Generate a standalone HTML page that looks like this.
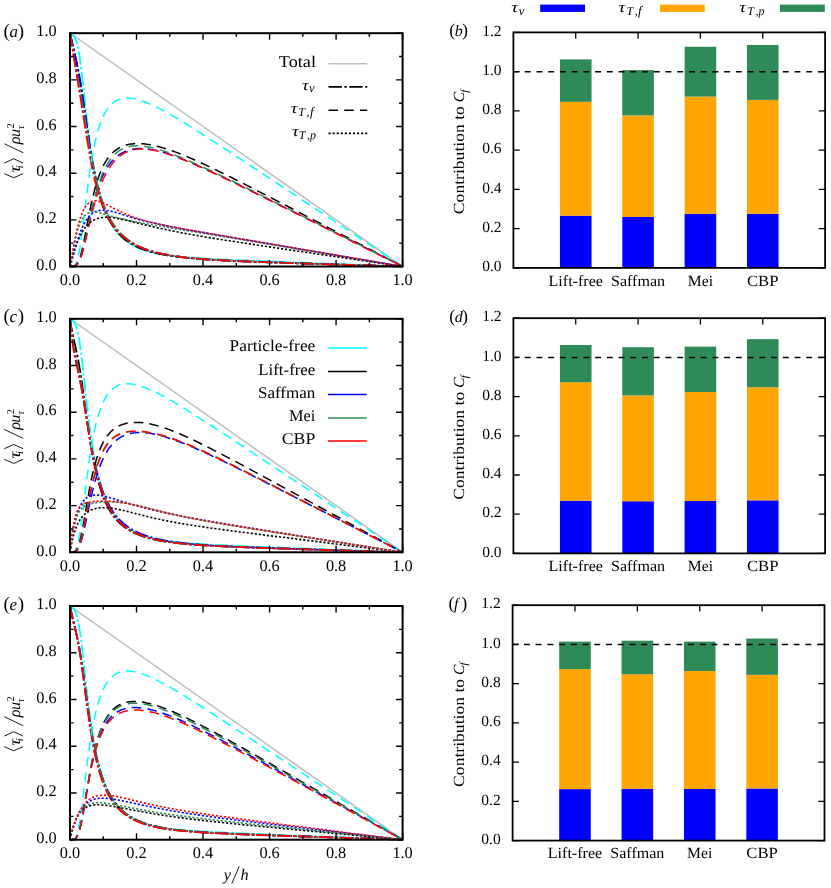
<!DOCTYPE html>
<html><head><meta charset="utf-8"><title>figure</title>
<style>html,body{margin:0;padding:0;background:#fff}svg{display:block}text{fill:#000;text-rendering:geometricPrecision}</style></head>
<body><svg width="831" height="888" viewBox="0 0 831 888">
<defs><filter id="gs" x="0" y="0" width="831" height="888" filterUnits="userSpaceOnUse" color-interpolation-filters="sRGB"><feColorMatrix type="saturate" values="0"/></filter></defs>
<rect width="831" height="888" fill="#fff"/>
<g>
<clipPath id="cla"><rect x="70.0" y="32.2" width="332.6" height="235.3"/></clipPath>
<g clip-path="url(#cla)" fill="none" stroke-linecap="butt" stroke-linejoin="round">
<path d="M70.00,33.20 L402.60,266.50" stroke="#bebebe" stroke-width="1.5"/>
<path d="M70.0,33.2 L70.3,33.4 L70.7,33.7 L71.0,33.9 L71.3,34.1 L71.7,34.4 L72.0,34.6 L72.3,34.9 L72.7,35.2 L73.0,35.5 L73.3,35.8 L73.7,36.2 L74.0,36.6 L74.3,37.1 L74.7,37.6 L75.0,38.2 L75.3,38.9 L75.7,39.7 L76.0,40.5 L76.3,41.4 L76.7,42.5 L77.0,43.6 L77.3,44.9 L77.6,46.2 L78.0,47.7 L78.3,49.4 L78.6,51.1 L79.0,53.0 L79.3,55.0 L79.6,57.1 L80.0,59.3 L80.3,61.7 L80.6,64.1 L81.0,66.6 L81.3,69.3 L81.6,72.0 L82.0,74.8 L82.3,77.6 L82.6,80.5 L83.0,83.5 L83.3,86.4 L83.6,89.4 L84.0,92.5 L84.3,95.5 L84.6,98.5 L85.0,101.6 L85.3,104.6 L85.6,107.6 L86.0,110.6 L86.3,113.5 L86.6,116.4 L88.1,128.5 L89.5,139.8 L90.9,150.1 L92.3,159.5 L93.8,168.0 L95.2,175.6 L96.6,182.5 L98.0,188.7 L99.5,194.3 L100.9,199.3 L102.3,203.8 L103.7,207.9 L105.2,211.6 L106.6,215.0 L108.0,218.1 L109.4,220.9 L110.9,223.4 L112.3,225.8 L113.7,227.9 L115.1,229.9 L116.6,231.7 L118.0,233.4 L119.4,235.0 L120.8,236.4 L122.3,237.8 L123.7,239.0 L125.1,240.2 L126.5,241.2 L128.0,242.2 L129.4,243.2 L130.8,244.1 L132.2,244.9 L133.7,245.7 L135.1,246.4 L136.5,247.1 L137.9,247.7 L139.4,248.3 L140.8,248.9 L142.2,249.4 L143.6,249.9 L145.1,250.4 L146.5,250.8 L147.9,251.2 L149.3,251.6 L150.8,252.0 L152.2,252.4 L153.6,252.7 L155.1,253.0 L156.5,253.3 L157.9,253.6 L159.3,253.9 L160.8,254.2 L162.2,254.4 L163.6,254.6 L165.0,254.9 L166.5,255.1 L167.9,255.3 L169.3,255.5 L170.7,255.7 L172.2,255.8 L173.6,256.0 L175.0,256.2 L176.4,256.3 L177.9,256.5 L179.3,256.6 L180.7,256.8 L182.1,256.9 L183.6,257.0 L185.0,257.1 L186.4,257.3 L192.0,257.7 L197.5,258.1 L203.0,258.4 L208.6,258.7 L214.1,259.0 L219.7,259.3 L225.2,259.6 L230.8,259.8 L236.3,260.1 L241.8,260.3 L247.4,260.5 L252.9,260.8 L258.5,261.0 L264.0,261.2 L269.6,261.4 L275.1,261.6 L280.6,261.9 L286.2,262.1 L291.7,262.3 L297.3,262.5 L302.8,262.7 L308.4,262.9 L313.9,263.1 L319.5,263.4 L325.0,263.6 L330.5,263.8 L336.1,264.0 L341.6,264.2 L347.2,264.4 L352.7,264.6 L358.3,264.8 L363.8,265.0 L369.3,265.3 L374.9,265.5 L380.4,265.7 L386.0,265.9 L391.5,266.1 L397.1,266.3 L402.6,266.5" stroke="#00ffff" stroke-width="1.8" stroke-dasharray="13.4 2.5 2.4 2.5"/>
<path d="M70.0,33.2 L70.3,34.8 L70.7,36.3 L71.0,37.9 L71.3,39.4 L71.7,40.9 L72.0,42.4 L72.3,43.9 L72.7,45.3 L73.0,46.7 L73.3,48.2 L73.7,49.6 L74.0,51.0 L74.3,52.4 L74.7,53.8 L75.0,55.2 L75.3,56.6 L75.7,58.1 L76.0,59.5 L76.3,61.0 L76.7,62.5 L77.0,64.0 L77.3,65.6 L77.6,67.2 L78.0,68.8 L78.3,70.5 L78.6,72.2 L79.0,73.9 L79.3,75.7 L79.6,77.6 L80.0,79.5 L80.3,81.4 L80.6,83.4 L81.0,85.5 L81.3,87.6 L81.6,89.7 L82.0,91.9 L82.3,94.1 L82.6,96.3 L83.0,98.6 L83.3,100.9 L83.6,103.2 L84.0,105.6 L84.3,108.0 L84.6,110.4 L85.0,112.8 L85.3,115.2 L85.6,117.6 L86.0,120.0 L86.3,122.4 L86.6,124.7 L88.1,134.8 L89.5,144.4 L90.9,153.5 L92.3,161.9 L93.8,169.6 L95.2,176.7 L96.6,183.2 L98.0,189.0 L99.5,194.4 L100.9,199.2 L102.3,203.6 L103.7,207.6 L105.2,211.2 L106.6,214.5 L108.0,217.5 L109.4,220.3 L110.9,222.8 L112.3,225.1 L113.7,227.3 L115.1,229.2 L116.6,231.0 L118.0,232.7 L119.4,234.3 L120.8,235.7 L122.3,237.1 L123.7,238.3 L125.1,239.5 L126.5,240.6 L128.0,241.6 L129.4,242.5 L130.8,243.4 L132.2,244.3 L133.7,245.1 L135.1,245.8 L136.5,246.5 L137.9,247.2 L139.4,247.8 L140.8,248.4 L142.2,249.0 L143.6,249.5 L145.1,250.0 L146.5,250.5 L147.9,250.9 L149.3,251.4 L150.8,251.8 L152.2,252.2 L153.6,252.5 L155.1,252.9 L156.5,253.2 L157.9,253.6 L159.3,253.9 L160.8,254.2 L162.2,254.4 L163.6,254.7 L165.0,255.0 L166.5,255.2 L167.9,255.5 L169.3,255.7 L170.7,255.9 L172.2,256.1 L173.6,256.3 L175.0,256.5 L176.4,256.7 L177.9,256.9 L179.3,257.0 L180.7,257.2 L182.1,257.4 L183.6,257.5 L185.0,257.7 L186.4,257.8 L192.0,258.3 L197.5,258.8 L203.0,259.2 L208.6,259.6 L214.1,259.9 L219.7,260.2 L225.2,260.5 L230.8,260.7 L236.3,261.0 L241.8,261.2 L247.4,261.4 L252.9,261.7 L258.5,261.9 L264.0,262.1 L269.6,262.3 L275.1,262.5 L280.6,262.7 L286.2,262.8 L291.7,263.0 L297.3,263.2 L302.8,263.4 L308.4,263.6 L313.9,263.7 L319.5,263.9 L325.0,264.1 L330.5,264.3 L336.1,264.5 L341.6,264.6 L347.2,264.8 L352.7,265.0 L358.3,265.1 L363.8,265.3 L369.3,265.5 L374.9,265.7 L380.4,265.8 L386.0,266.0 L391.5,266.2 L397.1,266.3 L402.6,266.5" stroke="#000000" stroke-width="1.8" stroke-dasharray="13.4 2.5 2.4 2.5"/>
<path d="M70.0,33.2 L70.3,34.4 L70.7,35.7 L71.0,37.1 L71.3,38.5 L71.7,40.0 L72.0,41.4 L72.3,42.9 L72.7,44.4 L73.0,45.9 L73.3,47.4 L73.7,48.9 L74.0,50.4 L74.3,52.0 L74.7,53.5 L75.0,55.0 L75.3,56.6 L75.7,58.2 L76.0,59.8 L76.3,61.4 L76.7,63.0 L77.0,64.7 L77.3,66.3 L77.6,68.0 L78.0,69.8 L78.3,71.5 L78.6,73.3 L79.0,75.1 L79.3,77.0 L79.6,78.9 L80.0,80.8 L80.3,82.8 L80.6,84.8 L81.0,86.8 L81.3,88.9 L81.6,91.0 L82.0,93.1 L82.3,95.3 L82.6,97.5 L83.0,99.7 L83.3,101.9 L83.6,104.2 L84.0,106.5 L84.3,108.8 L84.6,111.1 L85.0,113.4 L85.3,115.7 L85.6,118.0 L86.0,120.3 L86.3,122.6 L86.6,124.9 L88.1,134.6 L89.5,143.9 L90.9,152.7 L92.3,160.9 L93.8,168.5 L95.2,175.4 L96.6,181.7 L98.0,187.5 L99.5,192.8 L100.9,197.6 L102.3,201.9 L103.7,205.9 L105.2,209.5 L106.6,212.8 L108.0,215.8 L109.4,218.6 L110.9,221.1 L112.3,223.4 L113.7,225.6 L115.1,227.6 L116.6,229.4 L118.0,231.1 L119.4,232.7 L120.8,234.2 L122.3,235.6 L123.7,236.8 L125.1,238.0 L126.5,239.2 L128.0,240.2 L129.4,241.2 L130.8,242.1 L132.2,243.0 L133.7,243.8 L135.1,244.6 L136.5,245.4 L137.9,246.1 L139.4,246.7 L140.8,247.4 L142.2,248.0 L143.6,248.5 L145.1,249.1 L146.5,249.6 L147.9,250.1 L149.3,250.5 L150.8,251.0 L152.2,251.4 L153.6,251.8 L155.1,252.2 L156.5,252.5 L157.9,252.9 L159.3,253.2 L160.8,253.5 L162.2,253.8 L163.6,254.1 L165.0,254.4 L166.5,254.7 L167.9,255.0 L169.3,255.2 L170.7,255.4 L172.2,255.7 L173.6,255.9 L175.0,256.1 L176.4,256.3 L177.9,256.5 L179.3,256.7 L180.7,256.9 L182.1,257.1 L183.6,257.2 L185.0,257.4 L186.4,257.6 L192.0,258.1 L197.5,258.6 L203.0,259.1 L208.6,259.5 L214.1,259.8 L219.7,260.2 L225.2,260.5 L230.8,260.7 L236.3,261.0 L241.8,261.3 L247.4,261.5 L252.9,261.7 L258.5,261.9 L264.0,262.1 L269.6,262.3 L275.1,262.5 L280.6,262.7 L286.2,262.9 L291.7,263.1 L297.3,263.3 L302.8,263.5 L308.4,263.6 L313.9,263.8 L319.5,264.0 L325.0,264.2 L330.5,264.3 L336.1,264.5 L341.6,264.7 L347.2,264.8 L352.7,265.0 L358.3,265.2 L363.8,265.3 L369.3,265.5 L374.9,265.7 L380.4,265.8 L386.0,266.0 L391.5,266.2 L397.1,266.3 L402.6,266.5" stroke="#0000ff" stroke-width="1.8" stroke-dasharray="13.4 2.5 2.4 2.5"/>
<path d="M70.0,33.2 L70.3,35.1 L70.7,37.2 L71.0,39.3 L71.3,41.4 L71.7,43.6 L72.0,45.7 L72.3,47.8 L72.7,49.8 L73.0,51.9 L73.3,53.9 L73.7,55.9 L74.0,57.8 L74.3,59.7 L74.7,61.6 L75.0,63.4 L75.3,65.3 L75.7,67.1 L76.0,68.9 L76.3,70.7 L76.7,72.4 L77.0,74.2 L77.3,76.0 L77.6,77.7 L78.0,79.5 L78.3,81.2 L78.6,83.0 L79.0,84.8 L79.3,86.5 L79.6,88.4 L80.0,90.2 L80.3,92.0 L80.6,93.9 L81.0,95.7 L81.3,97.6 L81.6,99.6 L82.0,101.5 L82.3,103.5 L82.6,105.4 L83.0,107.4 L83.3,109.4 L83.6,111.5 L84.0,113.5 L84.3,115.5 L84.6,117.6 L85.0,119.6 L85.3,121.7 L85.6,123.8 L86.0,125.8 L86.3,127.9 L86.6,129.9 L88.1,138.6 L89.5,147.0 L90.9,154.9 L92.3,162.4 L93.8,169.3 L95.2,175.8 L96.6,181.7 L98.0,187.2 L99.5,192.2 L100.9,196.8 L102.3,201.0 L103.7,204.8 L105.2,208.4 L106.6,211.7 L108.0,214.7 L109.4,217.4 L110.9,220.0 L112.3,222.4 L113.7,224.6 L115.1,226.6 L116.6,228.5 L118.0,230.3 L119.4,231.9 L120.8,233.4 L122.3,234.8 L123.7,236.2 L125.1,237.4 L126.5,238.6 L128.0,239.7 L129.4,240.7 L130.8,241.7 L132.2,242.6 L133.7,243.5 L135.1,244.3 L136.5,245.1 L137.9,245.8 L139.4,246.5 L140.8,247.1 L142.2,247.7 L143.6,248.3 L145.1,248.9 L146.5,249.4 L147.9,249.9 L149.3,250.4 L150.8,250.8 L152.2,251.3 L153.6,251.7 L155.1,252.1 L156.5,252.4 L157.9,252.8 L159.3,253.2 L160.8,253.5 L162.2,253.8 L163.6,254.1 L165.0,254.4 L166.5,254.7 L167.9,254.9 L169.3,255.2 L170.7,255.4 L172.2,255.6 L173.6,255.9 L175.0,256.1 L176.4,256.3 L177.9,256.5 L179.3,256.7 L180.7,256.9 L182.1,257.0 L183.6,257.2 L185.0,257.4 L186.4,257.5 L192.0,258.1 L197.5,258.6 L203.0,259.1 L208.6,259.5 L214.1,259.8 L219.7,260.1 L225.2,260.4 L230.8,260.7 L236.3,261.0 L241.8,261.2 L247.4,261.5 L252.9,261.7 L258.5,261.9 L264.0,262.1 L269.6,262.3 L275.1,262.5 L280.6,262.7 L286.2,262.9 L291.7,263.1 L297.3,263.3 L302.8,263.4 L308.4,263.6 L313.9,263.8 L319.5,264.0 L325.0,264.2 L330.5,264.3 L336.1,264.5 L341.6,264.7 L347.2,264.8 L352.7,265.0 L358.3,265.2 L363.8,265.3 L369.3,265.5 L374.9,265.7 L380.4,265.8 L386.0,266.0 L391.5,266.2 L397.1,266.3 L402.6,266.5" stroke="#2e8b57" stroke-width="1.8" stroke-dasharray="13.4 2.5 2.4 2.5"/>
<path d="M70.0,33.2 L70.3,35.0 L70.7,37.0 L71.0,39.1 L71.3,41.2 L71.7,43.4 L72.0,45.6 L72.3,47.7 L72.7,49.9 L73.0,52.1 L73.3,54.2 L73.7,56.3 L74.0,58.4 L74.3,60.5 L74.7,62.6 L75.0,64.6 L75.3,66.7 L75.7,68.7 L76.0,70.7 L76.3,72.7 L76.7,74.7 L77.0,76.6 L77.3,78.6 L77.6,80.6 L78.0,82.6 L78.3,84.5 L78.6,86.5 L79.0,88.5 L79.3,90.5 L79.6,92.5 L80.0,94.6 L80.3,96.6 L80.6,98.6 L81.0,100.7 L81.3,102.8 L81.6,104.9 L82.0,107.0 L82.3,109.1 L82.6,111.2 L83.0,113.3 L83.3,115.4 L83.6,117.6 L84.0,119.7 L84.3,121.9 L84.6,124.0 L85.0,126.1 L85.3,128.3 L85.6,130.4 L86.0,132.5 L86.3,134.6 L86.6,136.7 L88.1,145.4 L89.5,153.8 L90.9,161.6 L92.3,168.8 L93.8,175.5 L95.2,181.6 L96.6,187.2 L98.0,192.3 L99.5,197.0 L100.9,201.2 L102.3,205.1 L103.7,208.6 L105.2,211.9 L106.6,214.9 L108.0,217.6 L109.4,220.1 L110.9,222.5 L112.3,224.6 L113.7,226.6 L115.1,228.4 L116.6,230.2 L118.0,231.8 L119.4,233.3 L120.8,234.7 L122.3,236.0 L123.7,237.2 L125.1,238.3 L126.5,239.4 L128.0,240.4 L129.4,241.4 L130.8,242.3 L132.2,243.2 L133.7,244.0 L135.1,244.7 L136.5,245.5 L137.9,246.1 L139.4,246.8 L140.8,247.4 L142.2,248.0 L143.6,248.6 L145.1,249.1 L146.5,249.6 L147.9,250.1 L149.3,250.5 L150.8,251.0 L152.2,251.4 L153.6,251.8 L155.1,252.2 L156.5,252.6 L157.9,252.9 L159.3,253.2 L160.8,253.6 L162.2,253.9 L163.6,254.2 L165.0,254.4 L166.5,254.7 L167.9,255.0 L169.3,255.2 L170.7,255.5 L172.2,255.7 L173.6,255.9 L175.0,256.1 L176.4,256.3 L177.9,256.5 L179.3,256.7 L180.7,256.9 L182.1,257.1 L183.6,257.3 L185.0,257.4 L186.4,257.6 L192.0,258.1 L197.5,258.6 L203.0,259.1 L208.6,259.5 L214.1,259.8 L219.7,260.2 L225.2,260.5 L230.8,260.8 L236.3,261.0 L241.8,261.3 L247.4,261.5 L252.9,261.7 L258.5,261.9 L264.0,262.1 L269.6,262.3 L275.1,262.5 L280.6,262.7 L286.2,262.9 L291.7,263.1 L297.3,263.3 L302.8,263.5 L308.4,263.6 L313.9,263.8 L319.5,264.0 L325.0,264.2 L330.5,264.3 L336.1,264.5 L341.6,264.7 L347.2,264.8 L352.7,265.0 L358.3,265.2 L363.8,265.4 L369.3,265.5 L374.9,265.7 L380.4,265.8 L386.0,266.0 L391.5,266.2 L397.1,266.3 L402.6,266.5" stroke="#ff0000" stroke-width="1.8" stroke-dasharray="13.4 2.5 2.4 2.5"/>
<path d="M70.0,266.5 L70.3,266.5 L70.7,266.5 L71.0,266.5 L71.3,266.5 L71.7,266.5 L72.0,266.5 L72.3,266.4 L72.7,266.4 L73.0,266.3 L73.3,266.2 L73.7,266.0 L74.0,265.9 L74.3,265.6 L74.7,265.3 L75.0,265.0 L75.3,264.5 L75.7,264.0 L76.0,263.4 L76.3,262.7 L76.7,261.9 L77.0,261.0 L77.3,260.0 L77.6,258.8 L78.0,257.6 L78.3,256.2 L78.6,254.7 L79.0,253.0 L79.3,251.3 L79.6,249.4 L80.0,247.4 L80.3,245.3 L80.6,243.1 L81.0,240.8 L81.3,238.4 L81.6,235.9 L82.0,233.3 L82.3,230.7 L82.6,228.0 L83.0,225.3 L83.3,222.6 L83.6,219.8 L84.0,217.0 L84.3,214.2 L84.6,211.4 L85.0,208.6 L85.3,205.8 L85.6,203.1 L86.0,200.3 L86.3,197.6 L86.6,194.9 L88.1,183.8 L89.5,173.6 L90.9,164.2 L92.3,155.8 L93.8,148.4 L95.2,141.7 L96.6,135.8 L98.0,130.7 L99.5,126.1 L100.9,122.1 L102.3,118.5 L103.7,115.4 L105.2,112.7 L106.6,110.4 L108.0,108.3 L109.4,106.5 L110.9,104.9 L112.3,103.6 L113.7,102.4 L115.1,101.5 L116.6,100.6 L118.0,99.9 L119.4,99.4 L120.8,98.9 L122.3,98.6 L123.7,98.4 L125.1,98.2 L126.5,98.1 L128.0,98.1 L129.4,98.2 L130.8,98.3 L132.2,98.5 L133.7,98.7 L135.1,99.0 L136.5,99.3 L137.9,99.7 L139.4,100.1 L140.8,100.5 L142.2,101.0 L143.6,101.5 L145.1,102.0 L146.5,102.5 L147.9,103.1 L149.3,103.7 L150.8,104.3 L152.2,105.0 L153.6,105.6 L155.1,106.3 L156.5,107.0 L157.9,107.7 L159.3,108.4 L160.8,109.2 L162.2,109.9 L163.6,110.7 L165.0,111.5 L166.5,112.3 L167.9,113.1 L169.3,113.9 L170.7,114.7 L172.2,115.5 L173.6,116.3 L175.0,117.2 L176.4,118.0 L177.9,118.9 L179.3,119.7 L180.7,120.6 L182.1,121.5 L183.6,122.3 L185.0,123.2 L186.4,124.1 L192.0,127.6 L197.5,131.1 L203.0,134.6 L208.6,138.2 L214.1,141.8 L219.7,145.4 L225.2,149.0 L230.8,152.7 L236.3,156.3 L241.8,159.9 L247.4,163.6 L252.9,167.3 L258.5,170.9 L264.0,174.6 L269.6,178.3 L275.1,181.9 L280.6,185.6 L286.2,189.3 L291.7,192.9 L297.3,196.6 L302.8,200.3 L308.4,204.0 L313.9,207.6 L319.5,211.3 L325.0,215.0 L330.5,218.7 L336.1,222.3 L341.6,226.0 L347.2,229.7 L352.7,233.4 L358.3,237.1 L363.8,240.7 L369.3,244.4 L374.9,248.1 L380.4,251.8 L386.0,255.5 L391.5,259.1 L397.1,262.8 L402.6,266.5" stroke="#00ffff" stroke-width="1.5" stroke-dasharray="9.6 6.1"/>
<path d="M70.0,266.5 L70.3,266.5 L70.7,266.5 L71.0,266.5 L71.3,266.5 L71.7,266.5 L72.0,266.5 L72.3,266.5 L72.7,266.4 L73.0,266.4 L73.3,266.4 L73.7,266.3 L74.0,266.2 L74.3,266.1 L74.7,266.0 L75.0,265.8 L75.3,265.6 L75.7,265.4 L76.0,265.1 L76.3,264.8 L76.7,264.4 L77.0,264.0 L77.3,263.5 L77.6,263.0 L78.0,262.4 L78.3,261.7 L78.6,261.0 L79.0,260.3 L79.3,259.4 L79.6,258.5 L80.0,257.5 L80.3,256.5 L80.6,255.4 L81.0,254.2 L81.3,253.0 L81.6,251.7 L82.0,250.3 L82.3,248.9 L82.6,247.4 L83.0,245.9 L83.3,244.3 L83.6,242.7 L84.0,241.1 L84.3,239.5 L84.6,237.8 L85.0,236.0 L85.3,234.3 L85.6,232.6 L86.0,230.8 L86.3,229.0 L86.6,227.3 L88.1,219.7 L89.5,212.4 L90.9,205.5 L92.3,199.1 L93.8,193.1 L95.2,187.7 L96.6,182.9 L98.0,178.5 L99.5,174.5 L100.9,171.0 L102.3,167.8 L103.7,164.9 L105.2,162.4 L106.6,160.1 L108.0,158.0 L109.4,156.2 L110.9,154.6 L112.3,153.1 L113.7,151.8 L115.1,150.6 L116.6,149.6 L118.0,148.6 L119.4,147.8 L120.8,147.1 L122.3,146.4 L123.7,145.9 L125.1,145.4 L126.5,145.0 L128.0,144.6 L129.4,144.3 L130.8,144.1 L132.2,143.9 L133.7,143.7 L135.1,143.6 L136.5,143.6 L137.9,143.6 L139.4,143.6 L140.8,143.6 L142.2,143.7 L143.6,143.8 L145.1,144.0 L146.5,144.2 L147.9,144.4 L149.3,144.6 L150.8,144.9 L152.2,145.1 L153.6,145.4 L155.1,145.7 L156.5,146.1 L157.9,146.4 L159.3,146.8 L160.8,147.2 L162.2,147.6 L163.6,148.0 L165.0,148.5 L166.5,148.9 L167.9,149.4 L169.3,149.8 L170.7,150.3 L172.2,150.8 L173.6,151.3 L175.0,151.9 L176.4,152.4 L177.9,152.9 L179.3,153.5 L180.7,154.1 L182.1,154.6 L183.6,155.2 L185.0,155.8 L186.4,156.4 L192.0,158.8 L197.5,161.2 L203.0,163.8 L208.6,166.4 L214.1,169.0 L219.7,171.7 L225.2,174.4 L230.8,177.2 L236.3,180.0 L241.8,182.8 L247.4,185.6 L252.9,188.4 L258.5,191.3 L264.0,194.1 L269.6,197.0 L275.1,199.9 L280.6,202.8 L286.2,205.6 L291.7,208.5 L297.3,211.4 L302.8,214.3 L308.4,217.2 L313.9,220.1 L319.5,223.0 L325.0,225.9 L330.5,228.8 L336.1,231.7 L341.6,234.6 L347.2,237.5 L352.7,240.4 L358.3,243.3 L363.8,246.2 L369.3,249.1 L374.9,252.0 L380.4,254.9 L386.0,257.8 L391.5,260.7 L397.1,263.6 L402.6,266.5" stroke="#000000" stroke-width="1.5" stroke-dasharray="9.6 6.1"/>
<path d="M70.0,266.5 L70.3,266.5 L70.7,266.5 L71.0,266.5 L71.3,266.5 L71.7,266.5 L72.0,266.5 L72.3,266.5 L72.7,266.4 L73.0,266.4 L73.3,266.4 L73.7,266.3 L74.0,266.3 L74.3,266.2 L74.7,266.1 L75.0,265.9 L75.3,265.8 L75.7,265.6 L76.0,265.3 L76.3,265.1 L76.7,264.8 L77.0,264.4 L77.3,264.1 L77.6,263.6 L78.0,263.1 L78.3,262.6 L78.6,262.0 L79.0,261.4 L79.3,260.7 L79.6,259.9 L80.0,259.1 L80.3,258.3 L80.6,257.4 L81.0,256.4 L81.3,255.3 L81.6,254.3 L82.0,253.1 L82.3,251.9 L82.6,250.7 L83.0,249.4 L83.3,248.1 L83.6,246.7 L84.0,245.3 L84.3,243.9 L84.6,242.4 L85.0,241.0 L85.3,239.4 L85.6,237.9 L86.0,236.4 L86.3,234.8 L86.6,233.2 L88.1,226.5 L89.5,219.9 L90.9,213.5 L92.3,207.5 L93.8,201.8 L95.2,196.7 L96.6,191.9 L98.0,187.6 L99.5,183.6 L100.9,180.0 L102.3,176.7 L103.7,173.8 L105.2,171.1 L106.6,168.6 L108.0,166.4 L109.4,164.4 L110.9,162.5 L112.3,160.8 L113.7,159.3 L115.1,158.0 L116.6,156.7 L118.0,155.6 L119.4,154.6 L120.8,153.7 L122.3,152.8 L123.7,152.1 L125.1,151.5 L126.5,150.9 L128.0,150.4 L129.4,150.0 L130.8,149.6 L132.2,149.3 L133.7,149.1 L135.1,148.9 L136.5,148.7 L137.9,148.6 L139.4,148.6 L140.8,148.6 L142.2,148.6 L143.6,148.7 L145.1,148.8 L146.5,148.9 L147.9,149.1 L149.3,149.2 L150.8,149.5 L152.2,149.7 L153.6,150.0 L155.1,150.3 L156.5,150.6 L157.9,150.9 L159.3,151.3 L160.8,151.7 L162.2,152.1 L163.6,152.5 L165.0,152.9 L166.5,153.3 L167.9,153.8 L169.3,154.3 L170.7,154.8 L172.2,155.2 L173.6,155.8 L175.0,156.3 L176.4,156.8 L177.9,157.3 L179.3,157.9 L180.7,158.4 L182.1,159.0 L183.6,159.6 L185.0,160.1 L186.4,160.7 L192.0,163.1 L197.5,165.5 L203.0,167.9 L208.6,170.5 L214.1,173.1 L219.7,175.7 L225.2,178.3 L230.8,181.0 L236.3,183.6 L241.8,186.3 L247.4,189.1 L252.9,191.8 L258.5,194.5 L264.0,197.2 L269.6,200.0 L275.1,202.7 L280.6,205.5 L286.2,208.2 L291.7,211.0 L297.3,213.8 L302.8,216.5 L308.4,219.3 L313.9,222.1 L319.5,224.8 L325.0,227.6 L330.5,230.4 L336.1,233.2 L341.6,235.9 L347.2,238.7 L352.7,241.5 L358.3,244.3 L363.8,247.0 L369.3,249.8 L374.9,252.6 L380.4,255.4 L386.0,258.2 L391.5,260.9 L397.1,263.7 L402.6,266.5" stroke="#0000ff" stroke-width="1.5" stroke-dasharray="9.6 6.1"/>
<path d="M70.0,266.5 L70.3,266.5 L70.7,266.5 L71.0,266.5 L71.3,266.5 L71.7,266.5 L72.0,266.5 L72.3,266.5 L72.7,266.4 L73.0,266.4 L73.3,266.4 L73.7,266.3 L74.0,266.3 L74.3,266.2 L74.7,266.1 L75.0,265.9 L75.3,265.8 L75.7,265.6 L76.0,265.4 L76.3,265.1 L76.7,264.8 L77.0,264.5 L77.3,264.1 L77.6,263.7 L78.0,263.3 L78.3,262.7 L78.6,262.2 L79.0,261.6 L79.3,260.9 L79.6,260.2 L80.0,259.4 L80.3,258.5 L80.6,257.7 L81.0,256.7 L81.3,255.7 L81.6,254.7 L82.0,253.5 L82.3,252.4 L82.6,251.2 L83.0,249.9 L83.3,248.6 L83.6,247.3 L84.0,245.9 L84.3,244.5 L84.6,243.1 L85.0,241.6 L85.3,240.1 L85.6,238.6 L86.0,237.0 L86.3,235.5 L86.6,233.9 L88.1,227.1 L89.5,220.4 L90.9,213.8 L92.3,207.5 L93.8,201.6 L95.2,196.0 L96.6,190.9 L98.0,186.2 L99.5,181.9 L100.9,177.9 L102.3,174.3 L103.7,171.1 L105.2,168.1 L106.6,165.4 L108.0,163.0 L109.4,160.8 L110.9,158.8 L112.3,157.1 L113.7,155.5 L115.1,154.1 L116.6,152.8 L118.0,151.7 L119.4,150.7 L120.8,149.8 L122.3,149.0 L123.7,148.4 L125.1,147.8 L126.5,147.3 L128.0,146.9 L129.4,146.6 L130.8,146.3 L132.2,146.1 L133.7,146.0 L135.1,145.9 L136.5,145.8 L137.9,145.8 L139.4,145.9 L140.8,146.0 L142.2,146.1 L143.6,146.3 L145.1,146.4 L146.5,146.7 L147.9,146.9 L149.3,147.2 L150.8,147.5 L152.2,147.8 L153.6,148.2 L155.1,148.5 L156.5,148.9 L157.9,149.3 L159.3,149.7 L160.8,150.1 L162.2,150.6 L163.6,151.0 L165.0,151.5 L166.5,152.0 L167.9,152.5 L169.3,153.0 L170.7,153.5 L172.2,154.1 L173.6,154.6 L175.0,155.1 L176.4,155.7 L177.9,156.3 L179.3,156.8 L180.7,157.4 L182.1,158.0 L183.6,158.6 L185.0,159.2 L186.4,159.8 L192.0,162.2 L197.5,164.6 L203.0,167.2 L208.6,169.7 L214.1,172.3 L219.7,175.0 L225.2,177.6 L230.8,180.3 L236.3,183.0 L241.8,185.7 L247.4,188.5 L252.9,191.2 L258.5,194.0 L264.0,196.7 L269.6,199.5 L275.1,202.3 L280.6,205.0 L286.2,207.8 L291.7,210.6 L297.3,213.4 L302.8,216.2 L308.4,219.0 L313.9,221.7 L319.5,224.5 L325.0,227.3 L330.5,230.1 L336.1,232.9 L341.6,235.7 L347.2,238.5 L352.7,241.3 L358.3,244.1 L363.8,246.9 L369.3,249.7 L374.9,252.5 L380.4,255.3 L386.0,258.1 L391.5,260.9 L397.1,263.7 L402.6,266.5" stroke="#2e8b57" stroke-width="1.5" stroke-dasharray="9.6 6.1"/>
<path d="M70.0,266.5 L70.3,266.5 L70.7,266.5 L71.0,266.5 L71.3,266.5 L71.7,266.5 L72.0,266.5 L72.3,266.5 L72.7,266.5 L73.0,266.4 L73.3,266.4 L73.7,266.3 L74.0,266.3 L74.3,266.2 L74.7,266.1 L75.0,265.9 L75.3,265.8 L75.7,265.6 L76.0,265.4 L76.3,265.2 L76.7,264.9 L77.0,264.6 L77.3,264.2 L77.6,263.8 L78.0,263.4 L78.3,262.9 L78.6,262.3 L79.0,261.8 L79.3,261.1 L79.6,260.4 L80.0,259.7 L80.3,258.9 L80.6,258.1 L81.0,257.2 L81.3,256.2 L81.6,255.2 L82.0,254.2 L82.3,253.1 L82.6,252.0 L83.0,250.8 L83.3,249.6 L83.6,248.4 L84.0,247.1 L84.3,245.8 L84.6,244.4 L85.0,243.1 L85.3,241.7 L85.6,240.3 L86.0,238.9 L86.3,237.5 L86.6,236.0 L88.1,229.8 L89.5,223.6 L90.9,217.6 L92.3,211.9 L93.8,206.5 L95.2,201.4 L96.6,196.7 L98.0,192.3 L99.5,188.3 L100.9,184.6 L102.3,181.1 L103.7,178.0 L105.2,175.1 L106.6,172.4 L108.0,169.9 L109.4,167.7 L110.9,165.6 L112.3,163.7 L113.7,161.9 L115.1,160.3 L116.6,158.9 L118.0,157.6 L119.4,156.4 L120.8,155.3 L122.3,154.3 L123.7,153.5 L125.1,152.7 L126.5,152.0 L128.0,151.4 L129.4,150.9 L130.8,150.4 L132.2,150.0 L133.7,149.7 L135.1,149.4 L136.5,149.2 L137.9,149.1 L139.4,149.0 L140.8,148.9 L142.2,148.9 L143.6,149.0 L145.1,149.0 L146.5,149.2 L147.9,149.3 L149.3,149.5 L150.8,149.7 L152.2,149.9 L153.6,150.2 L155.1,150.5 L156.5,150.8 L157.9,151.1 L159.3,151.5 L160.8,151.8 L162.2,152.2 L163.6,152.6 L165.0,153.1 L166.5,153.5 L167.9,154.0 L169.3,154.4 L170.7,154.9 L172.2,155.4 L173.6,155.9 L175.0,156.4 L176.4,157.0 L177.9,157.5 L179.3,158.1 L180.7,158.6 L182.1,159.2 L183.6,159.7 L185.0,160.3 L186.4,160.9 L192.0,163.2 L197.5,165.7 L203.0,168.1 L208.6,170.7 L214.1,173.2 L219.7,175.8 L225.2,178.5 L230.8,181.1 L236.3,183.8 L241.8,186.5 L247.4,189.2 L252.9,191.9 L258.5,194.6 L264.0,197.4 L269.6,200.1 L275.1,202.9 L280.6,205.6 L286.2,208.4 L291.7,211.1 L297.3,213.9 L302.8,216.6 L308.4,219.4 L313.9,222.2 L319.5,224.9 L325.0,227.7 L330.5,230.5 L336.1,233.2 L341.6,236.0 L347.2,238.8 L352.7,241.5 L358.3,244.3 L363.8,247.1 L369.3,249.8 L374.9,252.6 L380.4,255.4 L386.0,258.2 L391.5,260.9 L397.1,263.7 L402.6,266.5" stroke="#ff0000" stroke-width="1.5" stroke-dasharray="9.6 6.1"/>
<path d="M70.0,266.5 L70.3,265.2 L70.7,263.9 L71.0,262.5 L71.3,261.2 L71.7,260.0 L72.0,258.7 L72.3,257.5 L72.7,256.3 L73.0,255.2 L73.3,254.0 L73.7,252.9 L74.0,251.8 L74.3,250.7 L74.7,249.7 L75.0,248.7 L75.3,247.7 L75.7,246.7 L76.0,245.8 L76.3,244.9 L76.7,244.0 L77.0,243.1 L77.3,242.3 L77.6,241.4 L78.0,240.6 L78.3,239.8 L78.6,239.1 L79.0,238.3 L79.3,237.6 L79.6,236.9 L80.0,236.2 L80.3,235.5 L80.6,234.9 L81.0,234.2 L81.3,233.6 L81.6,233.0 L82.0,232.4 L82.3,231.9 L82.6,231.3 L83.0,230.8 L83.3,230.3 L83.6,229.8 L84.0,229.3 L84.3,228.8 L84.6,228.3 L85.0,227.9 L85.3,227.5 L85.6,227.0 L86.0,226.6 L86.3,226.2 L86.6,225.9 L88.1,224.3 L89.5,223.0 L90.9,221.9 L92.3,220.9 L93.8,220.1 L95.2,219.4 L96.6,218.8 L98.0,218.4 L99.5,218.0 L100.9,217.7 L102.3,217.5 L103.7,217.4 L105.2,217.3 L106.6,217.3 L108.0,217.3 L109.4,217.4 L110.9,217.5 L112.3,217.6 L113.7,217.8 L115.1,218.0 L116.6,218.3 L118.0,218.5 L119.4,218.8 L120.8,219.1 L122.3,219.4 L123.7,219.7 L125.1,220.0 L126.5,220.3 L128.0,220.7 L129.4,221.0 L130.8,221.4 L132.2,221.7 L133.7,222.1 L135.1,222.4 L136.5,222.8 L137.9,223.1 L139.4,223.5 L140.8,223.8 L142.2,224.2 L143.6,224.5 L145.1,224.9 L146.5,225.2 L147.9,225.6 L149.3,225.9 L150.8,226.2 L152.2,226.6 L153.6,226.9 L155.1,227.2 L156.5,227.6 L157.9,227.9 L159.3,228.2 L160.8,228.5 L162.2,228.8 L163.6,229.1 L165.0,229.4 L166.5,229.7 L167.9,230.0 L169.3,230.3 L170.7,230.6 L172.2,230.9 L173.6,231.2 L175.0,231.5 L176.4,231.8 L177.9,232.0 L179.3,232.3 L180.7,232.6 L182.1,232.9 L183.6,233.1 L185.0,233.4 L186.4,233.6 L192.0,234.7 L197.5,235.6 L203.0,236.6 L208.6,237.5 L214.1,238.4 L219.7,239.3 L225.2,240.2 L230.8,241.0 L236.3,241.9 L241.8,242.7 L247.4,243.6 L252.9,244.4 L258.5,245.2 L264.0,246.1 L269.6,246.9 L275.1,247.7 L280.6,248.6 L286.2,249.4 L291.7,250.2 L297.3,251.0 L302.8,251.8 L308.4,252.6 L313.9,253.5 L319.5,254.3 L325.0,255.1 L330.5,255.9 L336.1,256.7 L341.6,257.5 L347.2,258.4 L352.7,259.2 L358.3,260.0 L363.8,260.8 L369.3,261.6 L374.9,262.4 L380.4,263.2 L386.0,264.1 L391.5,264.9 L397.1,265.7 L402.6,266.5" stroke="#000000" stroke-width="1.6" stroke-dasharray="2.2 1.87"/>
<path d="M70.0,266.5 L70.3,265.5 L70.7,264.4 L71.0,263.3 L71.3,262.1 L71.7,260.9 L72.0,259.7 L72.3,258.5 L72.7,257.2 L73.0,256.0 L73.3,254.8 L73.7,253.5 L74.0,252.3 L74.3,251.1 L74.7,249.9 L75.0,248.7 L75.3,247.6 L75.7,246.4 L76.0,245.3 L76.3,244.2 L76.7,243.1 L77.0,242.0 L77.3,240.9 L77.6,239.9 L78.0,238.9 L78.3,237.9 L78.6,236.9 L79.0,236.0 L79.3,235.0 L79.6,234.1 L80.0,233.2 L80.3,232.4 L80.6,231.5 L81.0,230.7 L81.3,229.9 L81.6,229.1 L82.0,228.3 L82.3,227.6 L82.6,226.9 L83.0,226.2 L83.3,225.5 L83.6,224.8 L84.0,224.2 L84.3,223.6 L84.6,223.0 L85.0,222.4 L85.3,221.8 L85.6,221.3 L86.0,220.7 L86.3,220.2 L86.6,219.7 L88.1,217.8 L89.5,216.1 L90.9,214.7 L92.3,213.5 L93.8,212.6 L95.2,211.8 L96.6,211.2 L98.0,210.8 L99.5,210.5 L100.9,210.3 L102.3,210.2 L103.7,210.2 L105.2,210.3 L106.6,210.5 L108.0,210.7 L109.4,210.9 L110.9,211.2 L112.3,211.6 L113.7,211.9 L115.1,212.3 L116.6,212.7 L118.0,213.2 L119.4,213.6 L120.8,214.0 L122.3,214.5 L123.7,214.9 L125.1,215.3 L126.5,215.8 L128.0,216.2 L129.4,216.7 L130.8,217.1 L132.2,217.5 L133.7,217.9 L135.1,218.4 L136.5,218.8 L137.9,219.2 L139.4,219.6 L140.8,219.9 L142.2,220.3 L143.6,220.7 L145.1,221.0 L146.5,221.4 L147.9,221.8 L149.3,222.1 L150.8,222.4 L152.2,222.8 L153.6,223.1 L155.1,223.4 L156.5,223.7 L157.9,224.0 L159.3,224.3 L160.8,224.6 L162.2,224.9 L163.6,225.2 L165.0,225.5 L166.5,225.8 L167.9,226.1 L169.3,226.4 L170.7,226.7 L172.2,226.9 L173.6,227.2 L175.0,227.5 L176.4,227.7 L177.9,228.0 L179.3,228.3 L180.7,228.5 L182.1,228.8 L183.6,229.1 L185.0,229.3 L186.4,229.6 L192.0,230.6 L197.5,231.5 L203.0,232.5 L208.6,233.5 L214.1,234.4 L219.7,235.4 L225.2,236.3 L230.8,237.3 L236.3,238.2 L241.8,239.1 L247.4,240.1 L252.9,241.0 L258.5,242.0 L264.0,242.9 L269.6,243.9 L275.1,244.8 L280.6,245.7 L286.2,246.7 L291.7,247.6 L297.3,248.6 L302.8,249.5 L308.4,250.5 L313.9,251.4 L319.5,252.3 L325.0,253.3 L330.5,254.2 L336.1,255.2 L341.6,256.1 L347.2,257.1 L352.7,258.0 L358.3,259.0 L363.8,259.9 L369.3,260.8 L374.9,261.8 L380.4,262.7 L386.0,263.7 L391.5,264.6 L397.1,265.6 L402.6,266.5" stroke="#0000ff" stroke-width="1.6" stroke-dasharray="2.2 1.87"/>
<path d="M70.0,266.5 L70.3,264.8 L70.7,263.0 L71.0,261.1 L71.3,259.2 L71.7,257.3 L72.0,255.4 L72.3,253.6 L72.7,251.8 L73.0,250.0 L73.3,248.3 L73.7,246.6 L74.0,244.9 L74.3,243.4 L74.7,241.8 L75.0,240.3 L75.3,238.9 L75.7,237.5 L76.0,236.1 L76.3,234.8 L76.7,233.6 L77.0,232.4 L77.3,231.3 L77.6,230.1 L78.0,229.1 L78.3,228.1 L78.6,227.1 L79.0,226.2 L79.3,225.3 L79.6,224.4 L80.0,223.6 L80.3,222.9 L80.6,222.1 L81.0,221.4 L81.3,220.8 L81.6,220.2 L82.0,219.6 L82.3,219.0 L82.6,218.5 L83.0,218.0 L83.3,217.5 L83.6,217.0 L84.0,216.6 L84.3,216.2 L84.6,215.8 L85.0,215.5 L85.3,215.1 L85.6,214.8 L86.0,214.5 L86.3,214.3 L86.6,214.0 L88.1,213.2 L89.5,212.6 L90.9,212.2 L92.3,212.0 L93.8,212.0 L95.2,212.1 L96.6,212.2 L98.0,212.5 L99.5,212.8 L100.9,213.2 L102.3,213.5 L103.7,213.9 L105.2,214.4 L106.6,214.8 L108.0,215.2 L109.4,215.6 L110.9,216.0 L112.3,216.4 L113.7,216.8 L115.1,217.2 L116.6,217.6 L118.0,217.9 L119.4,218.3 L120.8,218.6 L122.3,219.0 L123.7,219.3 L125.1,219.6 L126.5,219.9 L128.0,220.3 L129.4,220.6 L130.8,220.8 L132.2,221.1 L133.7,221.4 L135.1,221.7 L136.5,222.0 L137.9,222.2 L139.4,222.5 L140.8,222.8 L142.2,223.0 L143.6,223.3 L145.1,223.5 L146.5,223.8 L147.9,224.0 L149.3,224.3 L150.8,224.5 L152.2,224.8 L153.6,225.0 L155.1,225.3 L156.5,225.5 L157.9,225.8 L159.3,226.0 L160.8,226.2 L162.2,226.5 L163.6,226.7 L165.0,227.0 L166.5,227.2 L167.9,227.4 L169.3,227.7 L170.7,227.9 L172.2,228.2 L173.6,228.4 L175.0,228.6 L176.4,228.9 L177.9,229.1 L179.3,229.3 L180.7,229.6 L182.1,229.8 L183.6,230.1 L185.0,230.3 L186.4,230.5 L192.0,231.5 L197.5,232.4 L203.0,233.3 L208.6,234.2 L214.1,235.1 L219.7,236.1 L225.2,237.0 L230.8,237.9 L236.3,238.8 L241.8,239.8 L247.4,240.7 L252.9,241.6 L258.5,242.5 L264.0,243.4 L269.6,244.4 L275.1,245.3 L280.6,246.2 L286.2,247.1 L291.7,248.1 L297.3,249.0 L302.8,249.9 L308.4,250.8 L313.9,251.7 L319.5,252.7 L325.0,253.6 L330.5,254.5 L336.1,255.4 L341.6,256.4 L347.2,257.3 L352.7,258.2 L358.3,259.1 L363.8,260.0 L369.3,261.0 L374.9,261.9 L380.4,262.8 L386.0,263.7 L391.5,264.7 L397.1,265.6 L402.6,266.5" stroke="#2e8b57" stroke-width="1.6" stroke-dasharray="2.2 1.87"/>
<path d="M70.0,266.5 L70.3,265.0 L70.7,263.2 L71.0,261.3 L71.3,259.4 L71.7,257.5 L72.0,255.5 L72.3,253.6 L72.7,251.7 L73.0,249.8 L73.3,247.9 L73.7,246.1 L74.0,244.3 L74.3,242.5 L74.7,240.8 L75.0,239.1 L75.3,237.5 L75.7,235.9 L76.0,234.3 L76.3,232.8 L76.7,231.3 L77.0,229.9 L77.3,228.5 L77.6,227.2 L78.0,225.9 L78.3,224.6 L78.6,223.4 L79.0,222.2 L79.3,221.1 L79.6,220.0 L80.0,219.0 L80.3,218.0 L80.6,217.0 L81.0,216.0 L81.3,215.1 L81.6,214.3 L82.0,213.5 L82.3,212.7 L82.6,211.9 L83.0,211.2 L83.3,210.5 L83.6,209.8 L84.0,209.2 L84.3,208.6 L84.6,208.0 L85.0,207.5 L85.3,207.0 L85.6,206.5 L86.0,206.0 L86.3,205.6 L86.6,205.1 L88.1,203.6 L89.5,202.5 L90.9,201.7 L92.3,201.2 L93.8,200.9 L95.2,200.8 L96.6,200.9 L98.0,201.2 L99.5,201.6 L100.9,202.1 L102.3,202.6 L103.7,203.2 L105.2,203.9 L106.6,204.6 L108.0,205.3 L109.4,206.1 L110.9,206.8 L112.3,207.6 L113.7,208.3 L115.1,209.1 L116.6,209.8 L118.0,210.5 L119.4,211.2 L120.8,211.9 L122.3,212.6 L123.7,213.2 L125.1,213.8 L126.5,214.4 L128.0,215.0 L129.4,215.6 L130.8,216.1 L132.2,216.7 L133.7,217.2 L135.1,217.7 L136.5,218.2 L137.9,218.6 L139.4,219.1 L140.8,219.5 L142.2,219.9 L143.6,220.3 L145.1,220.7 L146.5,221.1 L147.9,221.5 L149.3,221.8 L150.8,222.2 L152.2,222.5 L153.6,222.9 L155.1,223.2 L156.5,223.5 L157.9,223.8 L159.3,224.1 L160.8,224.5 L162.2,224.8 L163.6,225.0 L165.0,225.3 L166.5,225.6 L167.9,225.9 L169.3,226.2 L170.7,226.5 L172.2,226.7 L173.6,227.0 L175.0,227.3 L176.4,227.5 L177.9,227.8 L179.3,228.1 L180.7,228.3 L182.1,228.6 L183.6,228.9 L185.0,229.1 L186.4,229.4 L192.0,230.4 L197.5,231.3 L203.0,232.3 L208.6,233.3 L214.1,234.2 L219.7,235.2 L225.2,236.1 L230.8,237.1 L236.3,238.0 L241.8,239.0 L247.4,239.9 L252.9,240.9 L258.5,241.8 L264.0,242.8 L269.6,243.7 L275.1,244.7 L280.6,245.6 L286.2,246.6 L291.7,247.5 L297.3,248.5 L302.8,249.4 L308.4,250.4 L313.9,251.3 L319.5,252.3 L325.0,253.2 L330.5,254.2 L336.1,255.1 L341.6,256.1 L347.2,257.0 L352.7,258.0 L358.3,258.9 L363.8,259.9 L369.3,260.8 L374.9,261.8 L380.4,262.7 L386.0,263.7 L391.5,264.6 L397.1,265.6 L402.6,266.5" stroke="#ff0000" stroke-width="1.6" stroke-dasharray="2.2 1.87"/>
</g>
<rect x="70.0" y="33.2" width="332.6" height="233.3" fill="none" stroke="#000" stroke-width="2"/>
<path d="M70.00,266.5 v-6.5 M70.00,33.2 v6.5 M70.0,266.50 h6.5 M402.6,266.50 h-6.5 M103.26,266.5 v-3.5 M103.26,33.2 v3.5 M70.0,243.17 h3.5 M402.6,243.17 h-3.5 M136.52,266.5 v-6.5 M136.52,33.2 v6.5 M70.0,219.84 h6.5 M402.6,219.84 h-6.5 M169.78,266.5 v-3.5 M169.78,33.2 v3.5 M70.0,196.51 h3.5 M402.6,196.51 h-3.5 M203.04,266.5 v-6.5 M203.04,33.2 v6.5 M70.0,173.18 h6.5 M402.6,173.18 h-6.5 M236.30,266.5 v-3.5 M236.30,33.2 v3.5 M70.0,149.85 h3.5 M402.6,149.85 h-3.5 M269.56,266.5 v-6.5 M269.56,33.2 v6.5 M70.0,126.52 h6.5 M402.6,126.52 h-6.5 M302.82,266.5 v-3.5 M302.82,33.2 v3.5 M70.0,103.19 h3.5 M402.6,103.19 h-3.5 M336.08,266.5 v-6.5 M336.08,33.2 v6.5 M70.0,79.86 h6.5 M402.6,79.86 h-6.5 M369.34,266.5 v-3.5 M369.34,33.2 v3.5 M70.0,56.53 h3.5 M402.6,56.53 h-3.5 M402.60,266.5 v-6.5 M402.60,33.2 v6.5 M70.0,33.20 h6.5 M402.6,33.20 h-6.5" stroke="#000" stroke-width="1.4" fill="none"/>
</g>
<g>
<clipPath id="clc"><rect x="70.0" y="317.8" width="332.6" height="235.49999999999994"/></clipPath>
<g clip-path="url(#clc)" fill="none" stroke-linecap="butt" stroke-linejoin="round">
<path d="M70.00,318.80 L402.60,552.30" stroke="#bebebe" stroke-width="1.5"/>
<path d="M70.0,318.8 L70.3,319.0 L70.7,319.3 L71.0,319.5 L71.3,319.7 L71.7,320.0 L72.0,320.2 L72.3,320.5 L72.7,320.8 L73.0,321.1 L73.3,321.5 L73.7,321.8 L74.0,322.2 L74.3,322.7 L74.7,323.2 L75.0,323.8 L75.3,324.5 L75.7,325.3 L76.0,326.1 L76.3,327.0 L76.7,328.1 L77.0,329.2 L77.3,330.5 L77.6,331.9 L78.0,333.4 L78.3,335.0 L78.6,336.7 L79.0,338.6 L79.3,340.6 L79.6,342.7 L80.0,344.9 L80.3,347.3 L80.6,349.7 L81.0,352.3 L81.3,354.9 L81.6,357.6 L82.0,360.4 L82.3,363.3 L82.6,366.2 L83.0,369.1 L83.3,372.1 L83.6,375.1 L84.0,378.1 L84.3,381.1 L84.6,384.2 L85.0,387.2 L85.3,390.2 L85.6,393.3 L86.0,396.2 L86.3,399.2 L86.6,402.1 L88.1,414.2 L89.5,425.5 L90.9,435.8 L92.3,445.2 L93.8,453.7 L95.2,461.4 L96.6,468.3 L98.0,474.4 L99.5,480.0 L100.9,485.0 L102.3,489.6 L103.7,493.7 L105.2,497.4 L106.6,500.8 L108.0,503.8 L109.4,506.6 L110.9,509.2 L112.3,511.5 L113.7,513.7 L115.1,515.7 L116.6,517.5 L118.0,519.2 L119.4,520.7 L120.8,522.2 L122.3,523.5 L123.7,524.8 L125.1,525.9 L126.5,527.0 L128.0,528.0 L129.4,529.0 L130.8,529.8 L132.2,530.7 L133.7,531.4 L135.1,532.2 L136.5,532.8 L137.9,533.5 L139.4,534.1 L140.8,534.7 L142.2,535.2 L143.6,535.7 L145.1,536.2 L146.5,536.6 L147.9,537.0 L149.3,537.4 L150.8,537.8 L152.2,538.2 L153.6,538.5 L155.1,538.8 L156.5,539.1 L157.9,539.4 L159.3,539.7 L160.8,540.0 L162.2,540.2 L163.6,540.4 L165.0,540.7 L166.5,540.9 L167.9,541.1 L169.3,541.3 L170.7,541.5 L172.2,541.6 L173.6,541.8 L175.0,542.0 L176.4,542.1 L177.9,542.3 L179.3,542.4 L180.7,542.5 L182.1,542.7 L183.6,542.8 L185.0,542.9 L186.4,543.0 L192.0,543.5 L197.5,543.9 L203.0,544.2 L208.6,544.5 L214.1,544.8 L219.7,545.1 L225.2,545.3 L230.8,545.6 L236.3,545.8 L241.8,546.1 L247.4,546.3 L252.9,546.6 L258.5,546.8 L264.0,547.0 L269.6,547.2 L275.1,547.4 L280.6,547.7 L286.2,547.9 L291.7,548.1 L297.3,548.3 L302.8,548.5 L308.4,548.7 L313.9,548.9 L319.5,549.2 L325.0,549.4 L330.5,549.6 L336.1,549.8 L341.6,550.0 L347.2,550.2 L352.7,550.4 L358.3,550.6 L363.8,550.8 L369.3,551.0 L374.9,551.3 L380.4,551.5 L386.0,551.7 L391.5,551.9 L397.1,552.1 L402.6,552.3" stroke="#00ffff" stroke-width="1.8" stroke-dasharray="13.4 2.5 2.4 2.5"/>
<path d="M70.0,318.8 L70.3,321.0 L70.7,323.1 L71.0,325.2 L71.3,327.1 L71.7,329.0 L72.0,330.8 L72.3,332.5 L72.7,334.2 L73.0,335.8 L73.3,337.4 L73.7,338.9 L74.0,340.4 L74.3,341.9 L74.7,343.4 L75.0,344.9 L75.3,346.3 L75.7,347.8 L76.0,349.3 L76.3,350.8 L76.7,352.3 L77.0,353.8 L77.3,355.4 L77.6,357.1 L78.0,358.7 L78.3,360.5 L78.6,362.2 L79.0,364.1 L79.3,365.9 L79.6,367.9 L80.0,369.9 L80.3,371.9 L80.6,374.1 L81.0,376.2 L81.3,378.4 L81.6,380.7 L82.0,383.0 L82.3,385.4 L82.6,387.7 L83.0,390.1 L83.3,392.6 L83.6,395.1 L84.0,397.5 L84.3,400.0 L84.6,402.5 L85.0,405.0 L85.3,407.5 L85.6,410.0 L86.0,412.5 L86.3,415.0 L86.6,417.4 L88.1,427.6 L89.5,437.3 L90.9,446.2 L92.3,454.5 L93.8,462.0 L95.2,468.8 L96.6,475.0 L98.0,480.6 L99.5,485.6 L100.9,490.2 L102.3,494.3 L103.7,498.1 L105.2,501.4 L106.6,504.5 L108.0,507.3 L109.4,509.9 L110.9,512.2 L112.3,514.4 L113.7,516.4 L115.1,518.2 L116.6,519.8 L118.0,521.4 L119.4,522.8 L120.8,524.1 L122.3,525.4 L123.7,526.5 L125.1,527.6 L126.5,528.5 L128.0,529.5 L129.4,530.3 L130.8,531.2 L132.2,531.9 L133.7,532.6 L135.1,533.3 L136.5,533.9 L137.9,534.5 L139.4,535.1 L140.8,535.6 L142.2,536.1 L143.6,536.6 L145.1,537.1 L146.5,537.5 L147.9,537.9 L149.3,538.3 L150.8,538.7 L152.2,539.0 L153.6,539.3 L155.1,539.7 L156.5,540.0 L157.9,540.2 L159.3,540.5 L160.8,540.8 L162.2,541.0 L163.6,541.3 L165.0,541.5 L166.5,541.7 L167.9,541.9 L169.3,542.1 L170.7,542.3 L172.2,542.5 L173.6,542.7 L175.0,542.8 L176.4,543.0 L177.9,543.2 L179.3,543.3 L180.7,543.4 L182.1,543.6 L183.6,543.7 L185.0,543.8 L186.4,544.0 L192.0,544.4 L197.5,544.8 L203.0,545.2 L208.6,545.5 L214.1,545.8 L219.7,546.1 L225.2,546.3 L230.8,546.5 L236.3,546.8 L241.8,547.0 L247.4,547.2 L252.9,547.4 L258.5,547.6 L264.0,547.8 L269.6,548.0 L275.1,548.2 L280.6,548.4 L286.2,548.6 L291.7,548.8 L297.3,548.9 L302.8,549.1 L308.4,549.3 L313.9,549.5 L319.5,549.7 L325.0,549.8 L330.5,550.0 L336.1,550.2 L341.6,550.4 L347.2,550.6 L352.7,550.7 L358.3,550.9 L363.8,551.1 L369.3,551.3 L374.9,551.4 L380.4,551.6 L386.0,551.8 L391.5,552.0 L397.1,552.1 L402.6,552.3" stroke="#000000" stroke-width="1.8" stroke-dasharray="13.4 2.5 2.4 2.5"/>
<path d="M70.0,318.8 L70.3,321.7 L70.7,324.6 L71.0,327.3 L71.3,329.9 L71.7,332.5 L72.0,334.9 L72.3,337.2 L72.7,339.5 L73.0,341.7 L73.3,343.8 L73.7,345.8 L74.0,347.8 L74.3,349.7 L74.7,351.6 L75.0,353.4 L75.3,355.2 L75.7,357.0 L76.0,358.7 L76.3,360.4 L76.7,362.1 L77.0,363.8 L77.3,365.5 L77.6,367.1 L78.0,368.8 L78.3,370.5 L78.6,372.2 L79.0,373.9 L79.3,375.7 L79.6,377.4 L80.0,379.2 L80.3,381.0 L80.6,382.8 L81.0,384.7 L81.3,386.5 L81.6,388.4 L82.0,390.4 L82.3,392.3 L82.6,394.3 L83.0,396.3 L83.3,398.3 L83.6,400.4 L84.0,402.4 L84.3,404.5 L84.6,406.5 L85.0,408.6 L85.3,410.7 L85.6,412.8 L86.0,414.9 L86.3,417.0 L86.6,419.0 L88.1,427.8 L89.5,436.3 L90.9,444.3 L92.3,451.8 L93.8,458.7 L95.2,465.2 L96.6,471.1 L98.0,476.4 L99.5,481.4 L100.9,485.9 L102.3,490.0 L103.7,493.8 L105.2,497.2 L106.6,500.3 L108.0,503.2 L109.4,505.9 L110.9,508.3 L112.3,510.6 L113.7,512.7 L115.1,514.6 L116.6,516.4 L118.0,518.0 L119.4,519.6 L120.8,521.0 L122.3,522.3 L123.7,523.6 L125.1,524.7 L126.5,525.8 L128.0,526.9 L129.4,527.8 L130.8,528.7 L132.2,529.6 L133.7,530.4 L135.1,531.1 L136.5,531.8 L137.9,532.5 L139.4,533.2 L140.8,533.8 L142.2,534.3 L143.6,534.9 L145.1,535.4 L146.5,535.9 L147.9,536.3 L149.3,536.8 L150.8,537.2 L152.2,537.6 L153.6,538.0 L155.1,538.4 L156.5,538.7 L157.9,539.1 L159.3,539.4 L160.8,539.7 L162.2,540.0 L163.6,540.3 L165.0,540.5 L166.5,540.8 L167.9,541.0 L169.3,541.3 L170.7,541.5 L172.2,541.7 L173.6,541.9 L175.0,542.1 L176.4,542.3 L177.9,542.5 L179.3,542.7 L180.7,542.9 L182.1,543.0 L183.6,543.2 L185.0,543.4 L186.4,543.5 L192.0,544.0 L197.5,544.5 L203.0,544.9 L208.6,545.3 L214.1,545.7 L219.7,546.0 L225.2,546.3 L230.8,546.5 L236.3,546.8 L241.8,547.0 L247.4,547.3 L252.9,547.5 L258.5,547.7 L264.0,547.9 L269.6,548.1 L275.1,548.3 L280.6,548.5 L286.2,548.7 L291.7,548.9 L297.3,549.0 L302.8,549.2 L308.4,549.4 L313.9,549.6 L319.5,549.8 L325.0,549.9 L330.5,550.1 L336.1,550.3 L341.6,550.5 L347.2,550.6 L352.7,550.8 L358.3,551.0 L363.8,551.1 L369.3,551.3 L374.9,551.5 L380.4,551.6 L386.0,551.8 L391.5,552.0 L397.1,552.1 L402.6,552.3" stroke="#0000ff" stroke-width="1.8" stroke-dasharray="13.4 2.5 2.4 2.5"/>
<path d="M70.0,318.8 L70.3,322.0 L70.7,325.0 L71.0,327.9 L71.3,330.6 L71.7,333.2 L72.0,335.6 L72.3,337.9 L72.7,340.1 L73.0,342.2 L73.3,344.2 L73.7,346.1 L74.0,348.0 L74.3,349.7 L74.7,351.4 L75.0,353.1 L75.3,354.7 L75.7,356.3 L76.0,357.8 L76.3,359.3 L76.7,360.9 L77.0,362.4 L77.3,363.9 L77.6,365.4 L78.0,367.0 L78.3,368.5 L78.6,370.1 L79.0,371.7 L79.3,373.4 L79.6,375.1 L80.0,376.8 L80.3,378.5 L80.6,380.3 L81.0,382.2 L81.3,384.1 L81.6,386.0 L82.0,387.9 L82.3,389.9 L82.6,391.9 L83.0,394.0 L83.3,396.1 L83.6,398.2 L84.0,400.3 L84.3,402.5 L84.6,404.6 L85.0,406.8 L85.3,409.0 L85.6,411.2 L86.0,413.3 L86.3,415.5 L86.6,417.7 L88.1,426.9 L89.5,435.8 L90.9,444.2 L92.3,452.0 L93.8,459.3 L95.2,466.0 L96.6,472.1 L98.0,477.7 L99.5,482.8 L100.9,487.4 L102.3,491.7 L103.7,495.5 L105.2,499.1 L106.6,502.3 L108.0,505.2 L109.4,507.9 L110.9,510.4 L112.3,512.7 L113.7,514.7 L115.1,516.7 L116.6,518.4 L118.0,520.1 L119.4,521.6 L120.8,523.0 L122.3,524.3 L123.7,525.5 L125.1,526.7 L126.5,527.7 L128.0,528.7 L129.4,529.6 L130.8,530.5 L132.2,531.3 L133.7,532.1 L135.1,532.8 L136.5,533.4 L137.9,534.1 L139.4,534.7 L140.8,535.2 L142.2,535.8 L143.6,536.3 L145.1,536.7 L146.5,537.2 L147.9,537.6 L149.3,538.0 L150.8,538.4 L152.2,538.8 L153.6,539.1 L155.1,539.4 L156.5,539.8 L157.9,540.1 L159.3,540.4 L160.8,540.6 L162.2,540.9 L163.6,541.1 L165.0,541.4 L166.5,541.6 L167.9,541.8 L169.3,542.0 L170.7,542.2 L172.2,542.4 L173.6,542.6 L175.0,542.8 L176.4,543.0 L177.9,543.1 L179.3,543.3 L180.7,543.4 L182.1,543.6 L183.6,543.7 L185.0,543.9 L186.4,544.0 L192.0,544.5 L197.5,544.9 L203.0,545.3 L208.6,545.6 L214.1,545.9 L219.7,546.2 L225.2,546.4 L230.8,546.7 L236.3,546.9 L241.8,547.2 L247.4,547.4 L252.9,547.6 L258.5,547.8 L264.0,548.0 L269.6,548.2 L275.1,548.4 L280.6,548.5 L286.2,548.7 L291.7,548.9 L297.3,549.1 L302.8,549.3 L308.4,549.4 L313.9,549.6 L319.5,549.8 L325.0,549.9 L330.5,550.1 L336.1,550.3 L341.6,550.5 L347.2,550.6 L352.7,550.8 L358.3,551.0 L363.8,551.1 L369.3,551.3 L374.9,551.5 L380.4,551.6 L386.0,551.8 L391.5,552.0 L397.1,552.1 L402.6,552.3" stroke="#2e8b57" stroke-width="1.8" stroke-dasharray="13.4 2.5 2.4 2.5"/>
<path d="M70.0,318.8 L70.3,322.8 L70.7,326.4 L71.0,329.9 L71.3,333.1 L71.7,336.1 L72.0,338.9 L72.3,341.5 L72.7,343.9 L73.0,346.2 L73.3,348.4 L73.7,350.4 L74.0,352.3 L74.3,354.2 L74.7,355.9 L75.0,357.6 L75.3,359.2 L75.7,360.8 L76.0,362.3 L76.3,363.8 L76.7,365.3 L77.0,366.7 L77.3,368.2 L77.6,369.6 L78.0,371.1 L78.3,372.6 L78.6,374.0 L79.0,375.6 L79.3,377.1 L79.6,378.7 L80.0,380.3 L80.3,382.0 L80.6,383.7 L81.0,385.4 L81.3,387.2 L81.6,389.0 L82.0,390.8 L82.3,392.7 L82.6,394.6 L83.0,396.6 L83.3,398.6 L83.6,400.6 L84.0,402.7 L84.3,404.7 L84.6,406.8 L85.0,408.9 L85.3,411.0 L85.6,413.1 L86.0,415.2 L86.3,417.3 L86.6,419.5 L88.1,428.4 L89.5,437.1 L90.9,445.3 L92.3,453.0 L93.8,460.2 L95.2,466.7 L96.6,472.8 L98.0,478.3 L99.5,483.3 L100.9,487.9 L102.3,492.1 L103.7,495.9 L105.2,499.4 L106.6,502.6 L108.0,505.5 L109.4,508.1 L110.9,510.6 L112.3,512.8 L113.7,514.9 L115.1,516.8 L116.6,518.5 L118.0,520.2 L119.4,521.7 L120.8,523.1 L122.3,524.4 L123.7,525.6 L125.1,526.7 L126.5,527.7 L128.0,528.7 L129.4,529.6 L130.8,530.5 L132.2,531.3 L133.7,532.0 L135.1,532.7 L136.5,533.4 L137.9,534.0 L139.4,534.6 L140.8,535.2 L142.2,535.7 L143.6,536.2 L145.1,536.7 L146.5,537.1 L147.9,537.6 L149.3,538.0 L150.8,538.4 L152.2,538.7 L153.6,539.1 L155.1,539.4 L156.5,539.7 L157.9,540.0 L159.3,540.3 L160.8,540.6 L162.2,540.9 L163.6,541.1 L165.0,541.3 L166.5,541.6 L167.9,541.8 L169.3,542.0 L170.7,542.2 L172.2,542.4 L173.6,542.6 L175.0,542.8 L176.4,542.9 L177.9,543.1 L179.3,543.3 L180.7,543.4 L182.1,543.6 L183.6,543.7 L185.0,543.9 L186.4,544.0 L192.0,544.5 L197.5,544.9 L203.0,545.3 L208.6,545.6 L214.1,545.9 L219.7,546.2 L225.2,546.5 L230.8,546.7 L236.3,546.9 L241.8,547.2 L247.4,547.4 L252.9,547.6 L258.5,547.8 L264.0,548.0 L269.6,548.2 L275.1,548.4 L280.6,548.6 L286.2,548.7 L291.7,548.9 L297.3,549.1 L302.8,549.3 L308.4,549.4 L313.9,549.6 L319.5,549.8 L325.0,550.0 L330.5,550.1 L336.1,550.3 L341.6,550.5 L347.2,550.6 L352.7,550.8 L358.3,551.0 L363.8,551.1 L369.3,551.3 L374.9,551.5 L380.4,551.6 L386.0,551.8 L391.5,552.0 L397.1,552.1 L402.6,552.3" stroke="#ff0000" stroke-width="1.8" stroke-dasharray="13.4 2.5 2.4 2.5"/>
<path d="M70.0,552.3 L70.3,552.3 L70.7,552.3 L71.0,552.3 L71.3,552.3 L71.7,552.3 L72.0,552.3 L72.3,552.2 L72.7,552.2 L73.0,552.1 L73.3,552.0 L73.7,551.8 L74.0,551.7 L74.3,551.4 L74.7,551.1 L75.0,550.8 L75.3,550.3 L75.7,549.8 L76.0,549.2 L76.3,548.5 L76.7,547.7 L77.0,546.8 L77.3,545.8 L77.6,544.6 L78.0,543.4 L78.3,542.0 L78.6,540.4 L79.0,538.8 L79.3,537.0 L79.6,535.2 L80.0,533.2 L80.3,531.1 L80.6,528.8 L81.0,526.5 L81.3,524.1 L81.6,521.6 L82.0,519.1 L82.3,516.5 L82.6,513.8 L83.0,511.1 L83.3,508.4 L83.6,505.6 L84.0,502.8 L84.3,500.0 L84.6,497.2 L85.0,494.4 L85.3,491.6 L85.6,488.8 L86.0,486.1 L86.3,483.3 L86.6,480.7 L88.1,469.6 L89.5,459.3 L90.9,450.0 L92.3,441.6 L93.8,434.1 L95.2,427.4 L96.6,421.5 L98.0,416.3 L99.5,411.8 L100.9,407.7 L102.3,404.2 L103.7,401.1 L105.2,398.4 L106.6,396.0 L108.0,394.0 L109.4,392.2 L110.9,390.6 L112.3,389.2 L113.7,388.1 L115.1,387.1 L116.6,386.3 L118.0,385.6 L119.4,385.0 L120.8,384.6 L122.3,384.3 L123.7,384.0 L125.1,383.9 L126.5,383.8 L128.0,383.8 L129.4,383.8 L130.8,384.0 L132.2,384.1 L133.7,384.4 L135.1,384.6 L136.5,385.0 L137.9,385.3 L139.4,385.7 L140.8,386.1 L142.2,386.6 L143.6,387.1 L145.1,387.6 L146.5,388.2 L147.9,388.8 L149.3,389.4 L150.8,390.0 L152.2,390.6 L153.6,391.3 L155.1,392.0 L156.5,392.7 L157.9,393.4 L159.3,394.1 L160.8,394.9 L162.2,395.6 L163.6,396.4 L165.0,397.2 L166.5,397.9 L167.9,398.7 L169.3,399.5 L170.7,400.4 L172.2,401.2 L173.6,402.0 L175.0,402.9 L176.4,403.7 L177.9,404.6 L179.3,405.4 L180.7,406.3 L182.1,407.1 L183.6,408.0 L185.0,408.9 L186.4,409.8 L192.0,413.2 L197.5,416.8 L203.0,420.3 L208.6,423.9 L214.1,427.5 L219.7,431.1 L225.2,434.7 L230.8,438.4 L236.3,442.0 L241.8,445.7 L247.4,449.3 L252.9,453.0 L258.5,456.6 L264.0,460.3 L269.6,464.0 L275.1,467.6 L280.6,471.3 L286.2,475.0 L291.7,478.7 L297.3,482.4 L302.8,486.0 L308.4,489.7 L313.9,493.4 L319.5,497.1 L325.0,500.7 L330.5,504.4 L336.1,508.1 L341.6,511.8 L347.2,515.5 L352.7,519.2 L358.3,522.8 L363.8,526.5 L369.3,530.2 L374.9,533.9 L380.4,537.6 L386.0,541.2 L391.5,544.9 L397.1,548.6 L402.6,552.3" stroke="#00ffff" stroke-width="1.5" stroke-dasharray="9.6 6.1"/>
<path d="M70.0,552.3 L70.3,552.3 L70.7,552.3 L71.0,552.3 L71.3,552.3 L71.7,552.3 L72.0,552.3 L72.3,552.3 L72.7,552.2 L73.0,552.2 L73.3,552.1 L73.7,552.0 L74.0,551.9 L74.3,551.8 L74.7,551.6 L75.0,551.4 L75.3,551.1 L75.7,550.8 L76.0,550.4 L76.3,550.0 L76.7,549.5 L77.0,549.0 L77.3,548.4 L77.6,547.7 L78.0,546.9 L78.3,546.1 L78.6,545.2 L79.0,544.2 L79.3,543.1 L79.6,542.0 L80.0,540.7 L80.3,539.4 L80.6,538.0 L81.0,536.6 L81.3,535.0 L81.6,533.4 L82.0,531.8 L82.3,530.1 L82.6,528.3 L83.0,526.5 L83.3,524.7 L83.6,522.8 L84.0,520.9 L84.3,518.9 L84.6,517.0 L85.0,515.0 L85.3,513.0 L85.6,511.0 L86.0,509.0 L86.3,507.1 L86.6,505.1 L88.1,496.8 L89.5,489.0 L90.9,481.7 L92.3,475.0 L93.8,469.0 L95.2,463.6 L96.6,458.7 L98.0,454.4 L99.5,450.5 L100.9,447.1 L102.3,444.1 L103.7,441.4 L105.2,439.0 L106.6,436.8 L108.0,434.9 L109.4,433.2 L110.9,431.7 L112.3,430.4 L113.7,429.2 L115.1,428.2 L116.6,427.3 L118.0,426.4 L119.4,425.7 L120.8,425.1 L122.3,424.5 L123.7,424.1 L125.1,423.7 L126.5,423.3 L128.0,423.0 L129.4,422.8 L130.8,422.6 L132.2,422.5 L133.7,422.4 L135.1,422.4 L136.5,422.4 L137.9,422.4 L139.4,422.5 L140.8,422.6 L142.2,422.7 L143.6,422.9 L145.1,423.1 L146.5,423.3 L147.9,423.5 L149.3,423.8 L150.8,424.1 L152.2,424.4 L153.6,424.7 L155.1,425.1 L156.5,425.5 L157.9,425.9 L159.3,426.3 L160.8,426.7 L162.2,427.2 L163.6,427.6 L165.0,428.1 L166.5,428.6 L167.9,429.1 L169.3,429.6 L170.7,430.2 L172.2,430.7 L173.6,431.3 L175.0,431.8 L176.4,432.4 L177.9,433.0 L179.3,433.6 L180.7,434.2 L182.1,434.8 L183.6,435.5 L185.0,436.1 L186.4,436.8 L192.0,439.3 L197.5,442.0 L203.0,444.7 L208.6,447.5 L214.1,450.3 L219.7,453.2 L225.2,456.1 L230.8,459.0 L236.3,461.9 L241.8,464.9 L247.4,467.9 L252.9,470.9 L258.5,473.8 L264.0,476.8 L269.6,479.8 L275.1,482.8 L280.6,485.8 L286.2,488.9 L291.7,491.9 L297.3,494.9 L302.8,497.9 L308.4,500.9 L313.9,503.9 L319.5,507.0 L325.0,510.0 L330.5,513.0 L336.1,516.0 L341.6,519.0 L347.2,522.1 L352.7,525.1 L358.3,528.1 L363.8,531.1 L369.3,534.2 L374.9,537.2 L380.4,540.2 L386.0,543.2 L391.5,546.2 L397.1,549.3 L402.6,552.3" stroke="#000000" stroke-width="1.5" stroke-dasharray="9.6 6.1"/>
<path d="M70.0,552.3 L70.3,552.3 L70.7,552.3 L71.0,552.3 L71.3,552.3 L71.7,552.3 L72.0,552.3 L72.3,552.3 L72.7,552.2 L73.0,552.2 L73.3,552.2 L73.7,552.1 L74.0,552.0 L74.3,551.9 L74.7,551.8 L75.0,551.7 L75.3,551.5 L75.7,551.3 L76.0,551.1 L76.3,550.8 L76.7,550.5 L77.0,550.2 L77.3,549.8 L77.6,549.3 L78.0,548.9 L78.3,548.3 L78.6,547.7 L79.0,547.1 L79.3,546.4 L79.6,545.6 L80.0,544.8 L80.3,543.9 L80.6,542.9 L81.0,541.9 L81.3,540.9 L81.6,539.8 L82.0,538.6 L82.3,537.4 L82.6,536.2 L83.0,534.8 L83.3,533.5 L83.6,532.1 L84.0,530.7 L84.3,529.2 L84.6,527.7 L85.0,526.2 L85.3,524.7 L85.6,523.1 L86.0,521.6 L86.3,520.0 L86.6,518.4 L88.1,511.5 L89.5,504.7 L90.9,498.2 L92.3,492.0 L93.8,486.3 L95.2,480.9 L96.6,476.0 L98.0,471.5 L99.5,467.5 L100.9,463.7 L102.3,460.4 L103.7,457.3 L105.2,454.6 L106.6,452.1 L108.0,449.8 L109.4,447.7 L110.9,445.9 L112.3,444.2 L113.7,442.7 L115.1,441.4 L116.6,440.1 L118.0,439.0 L119.4,438.1 L120.8,437.2 L122.3,436.4 L123.7,435.7 L125.1,435.1 L126.5,434.6 L128.0,434.1 L129.4,433.7 L130.8,433.4 L132.2,433.1 L133.7,432.9 L135.1,432.8 L136.5,432.6 L137.9,432.6 L139.4,432.5 L140.8,432.5 L142.2,432.6 L143.6,432.6 L145.1,432.7 L146.5,432.9 L147.9,433.1 L149.3,433.2 L150.8,433.5 L152.2,433.7 L153.6,434.0 L155.1,434.3 L156.5,434.6 L157.9,434.9 L159.3,435.3 L160.8,435.6 L162.2,436.0 L163.6,436.4 L165.0,436.8 L166.5,437.3 L167.9,437.7 L169.3,438.2 L170.7,438.7 L172.2,439.1 L173.6,439.6 L175.0,440.1 L176.4,440.7 L177.9,441.2 L179.3,441.7 L180.7,442.3 L182.1,442.8 L183.6,443.4 L185.0,444.0 L186.4,444.5 L192.0,446.9 L197.5,449.3 L203.0,451.8 L208.6,454.3 L214.1,456.9 L219.7,459.5 L225.2,462.2 L230.8,464.9 L236.3,467.6 L241.8,470.4 L247.4,473.2 L252.9,475.9 L258.5,478.7 L264.0,481.5 L269.6,484.3 L275.1,487.1 L280.6,489.9 L286.2,492.7 L291.7,495.6 L297.3,498.4 L302.8,501.2 L308.4,504.0 L313.9,506.9 L319.5,509.7 L325.0,512.5 L330.5,515.4 L336.1,518.2 L341.6,521.1 L347.2,523.9 L352.7,526.7 L358.3,529.6 L363.8,532.4 L369.3,535.2 L374.9,538.1 L380.4,540.9 L386.0,543.8 L391.5,546.6 L397.1,549.5 L402.6,552.3" stroke="#0000ff" stroke-width="1.5" stroke-dasharray="9.6 6.1"/>
<path d="M70.0,552.3 L70.3,552.3 L70.7,552.3 L71.0,552.3 L71.3,552.3 L71.7,552.3 L72.0,552.3 L72.3,552.3 L72.7,552.2 L73.0,552.2 L73.3,552.1 L73.7,552.1 L74.0,552.0 L74.3,551.9 L74.7,551.7 L75.0,551.6 L75.3,551.4 L75.7,551.1 L76.0,550.8 L76.3,550.5 L76.7,550.2 L77.0,549.7 L77.3,549.3 L77.6,548.7 L78.0,548.1 L78.3,547.5 L78.6,546.7 L79.0,545.9 L79.3,545.1 L79.6,544.2 L80.0,543.2 L80.3,542.1 L80.6,541.0 L81.0,539.8 L81.3,538.5 L81.6,537.2 L82.0,535.8 L82.3,534.4 L82.6,532.9 L83.0,531.3 L83.3,529.7 L83.6,528.1 L84.0,526.5 L84.3,524.8 L84.6,523.0 L85.0,521.3 L85.3,519.5 L85.6,517.8 L86.0,516.0 L86.3,514.2 L86.6,512.4 L88.1,504.7 L89.5,497.3 L90.9,490.2 L92.3,483.7 L93.8,477.6 L95.2,472.2 L96.6,467.2 L98.0,462.8 L99.5,458.8 L100.9,455.3 L102.3,452.2 L103.7,449.4 L105.2,446.9 L106.6,444.8 L108.0,442.8 L109.4,441.2 L110.9,439.7 L112.3,438.4 L113.7,437.3 L115.1,436.3 L116.6,435.4 L118.0,434.7 L119.4,434.0 L120.8,433.5 L122.3,433.0 L123.7,432.6 L125.1,432.3 L126.5,432.0 L128.0,431.8 L129.4,431.6 L130.8,431.5 L132.2,431.4 L133.7,431.4 L135.1,431.4 L136.5,431.4 L137.9,431.5 L139.4,431.6 L140.8,431.7 L142.2,431.8 L143.6,432.0 L145.1,432.1 L146.5,432.3 L147.9,432.6 L149.3,432.8 L150.8,433.0 L152.2,433.3 L153.6,433.6 L155.1,433.9 L156.5,434.2 L157.9,434.6 L159.3,434.9 L160.8,435.3 L162.2,435.7 L163.6,436.1 L165.0,436.5 L166.5,436.9 L167.9,437.3 L169.3,437.8 L170.7,438.2 L172.2,438.7 L173.6,439.2 L175.0,439.7 L176.4,440.2 L177.9,440.7 L179.3,441.2 L180.7,441.7 L182.1,442.3 L183.6,442.8 L185.0,443.4 L186.4,443.9 L192.0,446.2 L197.5,448.6 L203.0,451.0 L208.6,453.6 L214.1,456.1 L219.7,458.8 L225.2,461.5 L230.8,464.2 L236.3,466.9 L241.8,469.7 L247.4,472.5 L252.9,475.3 L258.5,478.1 L264.0,480.9 L269.6,483.7 L275.1,486.6 L280.6,489.4 L286.2,492.2 L291.7,495.1 L297.3,497.9 L302.8,500.8 L308.4,503.6 L313.9,506.5 L319.5,509.4 L325.0,512.2 L330.5,515.1 L336.1,517.9 L341.6,520.8 L347.2,523.7 L352.7,526.5 L358.3,529.4 L363.8,532.2 L369.3,535.1 L374.9,538.0 L380.4,540.8 L386.0,543.7 L391.5,546.6 L397.1,549.4 L402.6,552.3" stroke="#2e8b57" stroke-width="1.5" stroke-dasharray="9.6 6.1"/>
<path d="M70.0,552.3 L70.3,552.3 L70.7,552.3 L71.0,552.3 L71.3,552.3 L71.7,552.3 L72.0,552.3 L72.3,552.3 L72.7,552.2 L73.0,552.2 L73.3,552.1 L73.7,552.1 L74.0,552.0 L74.3,551.9 L74.7,551.8 L75.0,551.6 L75.3,551.4 L75.7,551.2 L76.0,550.9 L76.3,550.6 L76.7,550.2 L77.0,549.8 L77.3,549.3 L77.6,548.8 L78.0,548.2 L78.3,547.6 L78.6,546.9 L79.0,546.1 L79.3,545.2 L79.6,544.3 L80.0,543.3 L80.3,542.3 L80.6,541.2 L81.0,540.0 L81.3,538.8 L81.6,537.5 L82.0,536.1 L82.3,534.7 L82.6,533.2 L83.0,531.7 L83.3,530.1 L83.6,528.5 L84.0,526.9 L84.3,525.2 L84.6,523.5 L85.0,521.7 L85.3,520.0 L85.6,518.2 L86.0,516.5 L86.3,514.7 L86.6,512.9 L88.1,505.3 L89.5,497.9 L90.9,490.9 L92.3,484.3 L93.8,478.3 L95.2,472.9 L96.6,467.9 L98.0,463.5 L99.5,459.5 L100.9,456.0 L102.3,452.9 L103.7,450.1 L105.2,447.6 L106.6,445.4 L108.0,443.5 L109.4,441.7 L110.9,440.2 L112.3,438.9 L113.7,437.7 L115.1,436.7 L116.6,435.8 L118.0,435.0 L119.4,434.3 L120.8,433.7 L122.3,433.2 L123.7,432.7 L125.1,432.3 L126.5,432.0 L128.0,431.8 L129.4,431.6 L130.8,431.4 L132.2,431.3 L133.7,431.2 L135.1,431.2 L136.5,431.2 L137.9,431.2 L139.4,431.3 L140.8,431.3 L142.2,431.5 L143.6,431.6 L145.1,431.8 L146.5,432.0 L147.9,432.2 L149.3,432.4 L150.8,432.7 L152.2,432.9 L153.6,433.2 L155.1,433.5 L156.5,433.9 L157.9,434.2 L159.3,434.6 L160.8,435.0 L162.2,435.3 L163.6,435.8 L165.0,436.2 L166.5,436.6 L167.9,437.1 L169.3,437.5 L170.7,438.0 L172.2,438.5 L173.6,439.0 L175.0,439.5 L176.4,440.0 L177.9,440.5 L179.3,441.1 L180.7,441.6 L182.1,442.2 L183.6,442.8 L185.0,443.3 L186.4,443.9 L192.0,446.3 L197.5,448.7 L203.0,451.2 L208.6,453.8 L214.1,456.4 L219.7,459.0 L225.2,461.7 L230.8,464.5 L236.3,467.2 L241.8,470.0 L247.4,472.8 L252.9,475.6 L258.5,478.4 L264.0,481.2 L269.6,484.0 L275.1,486.9 L280.6,489.7 L286.2,492.5 L291.7,495.4 L297.3,498.2 L302.8,501.0 L308.4,503.9 L313.9,506.7 L319.5,509.6 L325.0,512.4 L330.5,515.3 L336.1,518.1 L341.6,520.9 L347.2,523.8 L352.7,526.6 L358.3,529.5 L363.8,532.3 L369.3,535.2 L374.9,538.0 L380.4,540.9 L386.0,543.7 L391.5,546.6 L397.1,549.4 L402.6,552.3" stroke="#ff0000" stroke-width="1.5" stroke-dasharray="9.6 6.1"/>
<path d="M70.0,552.3 L70.3,550.3 L70.7,548.4 L71.0,546.6 L71.3,544.9 L71.7,543.3 L72.0,541.8 L72.3,540.3 L72.7,538.9 L73.0,537.5 L73.3,536.3 L73.7,535.0 L74.0,533.9 L74.3,532.8 L74.7,531.7 L75.0,530.7 L75.3,529.7 L75.7,528.8 L76.0,527.9 L76.3,527.1 L76.7,526.2 L77.0,525.5 L77.3,524.7 L77.6,524.0 L78.0,523.3 L78.3,522.7 L78.6,522.0 L79.0,521.4 L79.3,520.9 L79.6,520.3 L80.0,519.8 L80.3,519.3 L80.6,518.8 L81.0,518.3 L81.3,517.9 L81.6,517.4 L82.0,517.0 L82.3,516.6 L82.6,516.2 L83.0,515.8 L83.3,515.5 L83.6,515.1 L84.0,514.8 L84.3,514.5 L84.6,514.2 L85.0,513.9 L85.3,513.6 L85.6,513.3 L86.0,513.1 L86.3,512.8 L86.6,512.6 L88.1,511.6 L89.5,510.8 L90.9,510.1 L92.3,509.6 L93.8,509.1 L95.2,508.7 L96.6,508.3 L98.0,508.1 L99.5,507.9 L100.9,507.8 L102.3,507.7 L103.7,507.7 L105.2,507.7 L106.6,507.7 L108.0,507.8 L109.4,507.9 L110.9,508.1 L112.3,508.3 L113.7,508.5 L115.1,508.7 L116.6,509.0 L118.0,509.3 L119.4,509.6 L120.8,509.9 L122.3,510.2 L123.7,510.5 L125.1,510.9 L126.5,511.2 L128.0,511.6 L129.4,511.9 L130.8,512.3 L132.2,512.7 L133.7,513.0 L135.1,513.4 L136.5,513.8 L137.9,514.2 L139.4,514.5 L140.8,514.9 L142.2,515.3 L143.6,515.6 L145.1,516.0 L146.5,516.3 L147.9,516.7 L149.3,517.0 L150.8,517.4 L152.2,517.7 L153.6,518.0 L155.1,518.4 L156.5,518.7 L157.9,519.0 L159.3,519.3 L160.8,519.6 L162.2,519.9 L163.6,520.2 L165.0,520.5 L166.5,520.8 L167.9,521.1 L169.3,521.4 L170.7,521.6 L172.2,521.9 L173.6,522.2 L175.0,522.4 L176.4,522.7 L177.9,523.0 L179.3,523.2 L180.7,523.4 L182.1,523.7 L183.6,523.9 L185.0,524.2 L186.4,524.4 L192.0,525.3 L197.5,526.1 L203.0,526.9 L208.6,527.7 L214.1,528.5 L219.7,529.2 L225.2,530.0 L230.8,530.7 L236.3,531.4 L241.8,532.1 L247.4,532.8 L252.9,533.6 L258.5,534.3 L264.0,535.0 L269.6,535.7 L275.1,536.4 L280.6,537.0 L286.2,537.7 L291.7,538.4 L297.3,539.1 L302.8,539.8 L308.4,540.5 L313.9,541.2 L319.5,541.9 L325.0,542.6 L330.5,543.3 L336.1,544.0 L341.6,544.7 L347.2,545.4 L352.7,546.1 L358.3,546.8 L363.8,547.4 L369.3,548.1 L374.9,548.8 L380.4,549.5 L386.0,550.2 L391.5,550.9 L397.1,551.6 L402.6,552.3" stroke="#000000" stroke-width="1.6" stroke-dasharray="2.2 1.87"/>
<path d="M70.0,552.3 L70.3,549.6 L70.7,547.0 L71.0,544.5 L71.3,542.1 L71.7,539.8 L72.0,537.6 L72.3,535.5 L72.7,533.5 L73.0,531.6 L73.3,529.8 L73.7,528.0 L74.0,526.4 L74.3,524.8 L74.7,523.2 L75.0,521.8 L75.3,520.4 L75.7,519.1 L76.0,517.8 L76.3,516.6 L76.7,515.4 L77.0,514.3 L77.3,513.3 L77.6,512.3 L78.0,511.3 L78.3,510.4 L78.6,509.5 L79.0,508.7 L79.3,507.9 L79.6,507.2 L80.0,506.4 L80.3,505.8 L80.6,505.1 L81.0,504.5 L81.3,503.9 L81.6,503.3 L82.0,502.8 L82.3,502.3 L82.6,501.8 L83.0,501.4 L83.3,500.9 L83.6,500.5 L84.0,500.1 L84.3,499.7 L84.6,499.4 L85.0,499.1 L85.3,498.8 L85.6,498.5 L86.0,498.2 L86.3,497.9 L86.6,497.7 L88.1,496.8 L89.5,496.1 L90.9,495.6 L92.3,495.3 L93.8,495.1 L95.2,495.0 L96.6,495.0 L98.0,495.1 L99.5,495.2 L100.9,495.5 L102.3,495.7 L103.7,496.0 L105.2,496.3 L106.6,496.7 L108.0,497.1 L109.4,497.5 L110.9,497.9 L112.3,498.3 L113.7,498.7 L115.1,499.1 L116.6,499.6 L118.0,500.0 L119.4,500.5 L120.8,500.9 L122.3,501.4 L123.7,501.8 L125.1,502.2 L126.5,502.7 L128.0,503.1 L129.4,503.5 L130.8,504.0 L132.2,504.4 L133.7,504.8 L135.1,505.2 L136.5,505.6 L137.9,506.0 L139.4,506.4 L140.8,506.8 L142.2,507.2 L143.6,507.6 L145.1,508.0 L146.5,508.3 L147.9,508.7 L149.3,509.1 L150.8,509.4 L152.2,509.8 L153.6,510.1 L155.1,510.5 L156.5,510.8 L157.9,511.1 L159.3,511.5 L160.8,511.8 L162.2,512.1 L163.6,512.4 L165.0,512.7 L166.5,513.1 L167.9,513.4 L169.3,513.7 L170.7,514.0 L172.2,514.3 L173.6,514.6 L175.0,514.8 L176.4,515.1 L177.9,515.4 L179.3,515.7 L180.7,516.0 L182.1,516.3 L183.6,516.5 L185.0,516.8 L186.4,517.1 L192.0,518.1 L197.5,519.1 L203.0,520.1 L208.6,521.1 L214.1,522.0 L219.7,522.9 L225.2,523.9 L230.8,524.8 L236.3,525.7 L241.8,526.6 L247.4,527.5 L252.9,528.4 L258.5,529.3 L264.0,530.2 L269.6,531.1 L275.1,532.0 L280.6,532.9 L286.2,533.7 L291.7,534.6 L297.3,535.5 L302.8,536.4 L308.4,537.3 L313.9,538.2 L319.5,539.1 L325.0,539.9 L330.5,540.8 L336.1,541.7 L341.6,542.6 L347.2,543.5 L352.7,544.4 L358.3,545.2 L363.8,546.1 L369.3,547.0 L374.9,547.9 L380.4,548.8 L386.0,549.7 L391.5,550.5 L397.1,551.4 L402.6,552.3" stroke="#0000ff" stroke-width="1.6" stroke-dasharray="2.2 1.87"/>
<path d="M70.0,552.3 L70.3,549.3 L70.7,546.5 L71.0,543.9 L71.3,541.4 L71.7,539.1 L72.0,536.9 L72.3,534.8 L72.7,532.9 L73.0,531.1 L73.3,529.4 L73.7,527.8 L74.0,526.3 L74.3,524.8 L74.7,523.5 L75.0,522.3 L75.3,521.1 L75.7,520.0 L76.0,518.9 L76.3,518.0 L76.7,517.0 L77.0,516.2 L77.3,515.4 L77.6,514.6 L78.0,513.9 L78.3,513.2 L78.6,512.6 L79.0,512.0 L79.3,511.5 L79.6,510.9 L80.0,510.5 L80.3,510.0 L80.6,509.6 L81.0,509.2 L81.3,508.8 L81.6,508.4 L82.0,508.1 L82.3,507.8 L82.6,507.5 L83.0,507.2 L83.3,506.9 L83.6,506.7 L84.0,506.4 L84.3,506.2 L84.6,506.0 L85.0,505.8 L85.3,505.6 L85.6,505.5 L86.0,505.3 L86.3,505.1 L86.6,505.0 L88.1,504.4 L89.5,504.0 L90.9,503.7 L92.3,503.4 L93.8,503.1 L95.2,502.9 L96.6,502.7 L98.0,502.6 L99.5,502.5 L100.9,502.3 L102.3,502.2 L103.7,502.2 L105.2,502.1 L106.6,502.1 L108.0,502.0 L109.4,502.0 L110.9,502.0 L112.3,502.0 L113.7,502.1 L115.1,502.2 L116.6,502.2 L118.0,502.4 L119.4,502.5 L120.8,502.6 L122.3,502.8 L123.7,503.0 L125.1,503.2 L126.5,503.4 L128.0,503.6 L129.4,503.8 L130.8,504.1 L132.2,504.4 L133.7,504.6 L135.1,504.9 L136.5,505.2 L137.9,505.6 L139.4,505.9 L140.8,506.2 L142.2,506.5 L143.6,506.9 L145.1,507.2 L146.5,507.6 L147.9,507.9 L149.3,508.3 L150.8,508.7 L152.2,509.0 L153.6,509.4 L155.1,509.7 L156.5,510.1 L157.9,510.5 L159.3,510.8 L160.8,511.2 L162.2,511.5 L163.6,511.9 L165.0,512.3 L166.5,512.6 L167.9,513.0 L169.3,513.3 L170.7,513.6 L172.2,514.0 L173.6,514.3 L175.0,514.7 L176.4,515.0 L177.9,515.3 L179.3,515.6 L180.7,515.9 L182.1,516.3 L183.6,516.6 L185.0,516.9 L186.4,517.2 L192.0,518.3 L197.5,519.5 L203.0,520.5 L208.6,521.5 L214.1,522.5 L219.7,523.5 L225.2,524.5 L230.8,525.4 L236.3,526.3 L241.8,527.2 L247.4,528.1 L252.9,529.0 L258.5,529.9 L264.0,530.7 L269.6,531.6 L275.1,532.5 L280.6,533.3 L286.2,534.2 L291.7,535.1 L297.3,535.9 L302.8,536.8 L308.4,537.7 L313.9,538.5 L319.5,539.4 L325.0,540.2 L330.5,541.1 L336.1,542.0 L341.6,542.8 L347.2,543.7 L352.7,544.6 L358.3,545.4 L363.8,546.3 L369.3,547.1 L374.9,548.0 L380.4,548.9 L386.0,549.7 L391.5,550.6 L397.1,551.4 L402.6,552.3" stroke="#2e8b57" stroke-width="1.6" stroke-dasharray="2.2 1.87"/>
<path d="M70.0,552.3 L70.3,548.6 L70.7,545.1 L71.0,541.9 L71.3,539.0 L71.7,536.2 L72.0,533.7 L72.3,531.3 L72.7,529.1 L73.0,527.1 L73.3,525.2 L73.7,523.5 L74.0,521.9 L74.3,520.4 L74.7,519.0 L75.0,517.7 L75.3,516.5 L75.7,515.4 L76.0,514.4 L76.3,513.5 L76.7,512.6 L77.0,511.8 L77.3,511.0 L77.6,510.3 L78.0,509.7 L78.3,509.1 L78.6,508.6 L79.0,508.1 L79.3,507.6 L79.6,507.2 L80.0,506.8 L80.3,506.4 L80.6,506.0 L81.0,505.7 L81.3,505.4 L81.6,505.1 L82.0,504.9 L82.3,504.6 L82.6,504.4 L83.0,504.2 L83.3,504.0 L83.6,503.9 L84.0,503.7 L84.3,503.5 L84.6,503.4 L85.0,503.3 L85.3,503.1 L85.6,503.0 L86.0,502.9 L86.3,502.8 L86.6,502.7 L88.1,502.4 L89.5,502.1 L90.9,501.9 L92.3,501.7 L93.8,501.6 L95.2,501.5 L96.6,501.4 L98.0,501.3 L99.5,501.2 L100.9,501.1 L102.3,501.1 L103.7,501.1 L105.2,501.1 L106.6,501.1 L108.0,501.1 L109.4,501.2 L110.9,501.3 L112.3,501.4 L113.7,501.5 L115.1,501.6 L116.6,501.8 L118.0,501.9 L119.4,502.1 L120.8,502.3 L122.3,502.6 L123.7,502.8 L125.1,503.1 L126.5,503.3 L128.0,503.6 L129.4,503.9 L130.8,504.2 L132.2,504.5 L133.7,504.9 L135.1,505.2 L136.5,505.5 L137.9,505.9 L139.4,506.2 L140.8,506.6 L142.2,506.9 L143.6,507.3 L145.1,507.7 L146.5,508.0 L147.9,508.4 L149.3,508.7 L150.8,509.1 L152.2,509.5 L153.6,509.8 L155.1,510.2 L156.5,510.5 L157.9,510.9 L159.3,511.2 L160.8,511.6 L162.2,511.9 L163.6,512.3 L165.0,512.6 L166.5,512.9 L167.9,513.3 L169.3,513.6 L170.7,513.9 L172.2,514.2 L173.6,514.5 L175.0,514.8 L176.4,515.2 L177.9,515.5 L179.3,515.8 L180.7,516.1 L182.1,516.4 L183.6,516.6 L185.0,516.9 L186.4,517.2 L192.0,518.3 L197.5,519.3 L203.0,520.3 L208.6,521.3 L214.1,522.3 L219.7,523.2 L225.2,524.2 L230.8,525.1 L236.3,526.0 L241.8,526.9 L247.4,527.8 L252.9,528.6 L258.5,529.5 L264.0,530.4 L269.6,531.3 L275.1,532.2 L280.6,533.0 L286.2,533.9 L291.7,534.8 L297.3,535.7 L302.8,536.6 L308.4,537.4 L313.9,538.3 L319.5,539.2 L325.0,540.1 L330.5,540.9 L336.1,541.8 L341.6,542.7 L347.2,543.6 L352.7,544.4 L358.3,545.3 L363.8,546.2 L369.3,547.1 L374.9,547.9 L380.4,548.8 L386.0,549.7 L391.5,550.6 L397.1,551.4 L402.6,552.3" stroke="#ff0000" stroke-width="1.6" stroke-dasharray="2.2 1.87"/>
</g>
<rect x="70.0" y="318.8" width="332.6" height="233.49999999999994" fill="none" stroke="#000" stroke-width="2"/>
<path d="M70.00,552.3 v-6.5 M70.00,318.8 v6.5 M70.0,552.30 h6.5 M402.6,552.30 h-6.5 M103.26,552.3 v-3.5 M103.26,318.8 v3.5 M70.0,528.95 h3.5 M402.6,528.95 h-3.5 M136.52,552.3 v-6.5 M136.52,318.8 v6.5 M70.0,505.60 h6.5 M402.6,505.60 h-6.5 M169.78,552.3 v-3.5 M169.78,318.8 v3.5 M70.0,482.25 h3.5 M402.6,482.25 h-3.5 M203.04,552.3 v-6.5 M203.04,318.8 v6.5 M70.0,458.90 h6.5 M402.6,458.90 h-6.5 M236.30,552.3 v-3.5 M236.30,318.8 v3.5 M70.0,435.55 h3.5 M402.6,435.55 h-3.5 M269.56,552.3 v-6.5 M269.56,318.8 v6.5 M70.0,412.20 h6.5 M402.6,412.20 h-6.5 M302.82,552.3 v-3.5 M302.82,318.8 v3.5 M70.0,388.85 h3.5 M402.6,388.85 h-3.5 M336.08,552.3 v-6.5 M336.08,318.8 v6.5 M70.0,365.50 h6.5 M402.6,365.50 h-6.5 M369.34,552.3 v-3.5 M369.34,318.8 v3.5 M70.0,342.15 h3.5 M402.6,342.15 h-3.5 M402.60,552.3 v-6.5 M402.60,318.8 v6.5 M70.0,318.80 h6.5 M402.6,318.80 h-6.5" stroke="#000" stroke-width="1.4" fill="none"/>
</g>
<g>
<clipPath id="cle"><rect x="70.0" y="605.0" width="332.6" height="235.70000000000005"/></clipPath>
<g clip-path="url(#cle)" fill="none" stroke-linecap="butt" stroke-linejoin="round">
<path d="M70.00,606.00 L402.60,839.70" stroke="#bebebe" stroke-width="1.5"/>
<path d="M70.0,606.0 L70.3,606.2 L70.7,606.5 L71.0,606.7 L71.3,606.9 L71.7,607.2 L72.0,607.4 L72.3,607.7 L72.7,608.0 L73.0,608.3 L73.3,608.7 L73.7,609.0 L74.0,609.5 L74.3,609.9 L74.7,610.5 L75.0,611.0 L75.3,611.7 L75.7,612.5 L76.0,613.3 L76.3,614.2 L76.7,615.3 L77.0,616.4 L77.3,617.7 L77.6,619.1 L78.0,620.6 L78.3,622.2 L78.6,623.9 L79.0,625.8 L79.3,627.8 L79.6,629.9 L80.0,632.2 L80.3,634.5 L80.6,637.0 L81.0,639.5 L81.3,642.1 L81.6,644.9 L82.0,647.6 L82.3,650.5 L82.6,653.4 L83.0,656.3 L83.3,659.3 L83.6,662.3 L84.0,665.4 L84.3,668.4 L84.6,671.4 L85.0,674.5 L85.3,677.5 L85.6,680.5 L86.0,683.5 L86.3,686.5 L86.6,689.4 L88.1,701.5 L89.5,712.8 L90.9,723.1 L92.3,732.5 L93.8,741.0 L95.2,748.7 L96.6,755.6 L98.0,761.8 L99.5,767.4 L100.9,772.4 L102.3,776.9 L103.7,781.0 L105.2,784.7 L106.6,788.1 L108.0,791.2 L109.4,794.0 L110.9,796.6 L112.3,798.9 L113.7,801.1 L115.1,803.0 L116.6,804.9 L118.0,806.6 L119.4,808.1 L120.8,809.6 L122.3,810.9 L123.7,812.1 L125.1,813.3 L126.5,814.4 L128.0,815.4 L129.4,816.3 L130.8,817.2 L132.2,818.0 L133.7,818.8 L135.1,819.5 L136.5,820.2 L137.9,820.9 L139.4,821.5 L140.8,822.0 L142.2,822.6 L143.6,823.1 L145.1,823.6 L146.5,824.0 L147.9,824.4 L149.3,824.8 L150.8,825.2 L152.2,825.6 L153.6,825.9 L155.1,826.2 L156.5,826.5 L157.9,826.8 L159.3,827.1 L160.8,827.3 L162.2,827.6 L163.6,827.8 L165.0,828.1 L166.5,828.3 L167.9,828.5 L169.3,828.7 L170.7,828.8 L172.2,829.0 L173.6,829.2 L175.0,829.4 L176.4,829.5 L177.9,829.7 L179.3,829.8 L180.7,829.9 L182.1,830.1 L183.6,830.2 L185.0,830.3 L186.4,830.4 L192.0,830.9 L197.5,831.2 L203.0,831.6 L208.6,831.9 L214.1,832.2 L219.7,832.5 L225.2,832.7 L230.8,833.0 L236.3,833.2 L241.8,833.5 L247.4,833.7 L252.9,833.9 L258.5,834.2 L264.0,834.4 L269.6,834.6 L275.1,834.8 L280.6,835.1 L286.2,835.3 L291.7,835.5 L297.3,835.7 L302.8,835.9 L308.4,836.1 L313.9,836.3 L319.5,836.6 L325.0,836.8 L330.5,837.0 L336.1,837.2 L341.6,837.4 L347.2,837.6 L352.7,837.8 L358.3,838.0 L363.8,838.2 L369.3,838.4 L374.9,838.7 L380.4,838.9 L386.0,839.1 L391.5,839.3 L397.1,839.5 L402.6,839.7" stroke="#00ffff" stroke-width="1.8" stroke-dasharray="13.4 2.5 2.4 2.5"/>
<path d="M70.0,606.0 L70.3,607.8 L70.7,609.5 L71.0,611.2 L71.3,612.8 L71.7,614.4 L72.0,615.9 L72.3,617.4 L72.7,618.8 L73.0,620.2 L73.3,621.6 L73.7,623.0 L74.0,624.3 L74.3,625.6 L74.7,626.9 L75.0,628.2 L75.3,629.6 L75.7,630.9 L76.0,632.2 L76.3,633.6 L76.7,635.0 L77.0,636.4 L77.3,637.9 L77.6,639.4 L78.0,641.0 L78.3,642.6 L78.6,644.3 L79.0,646.0 L79.3,647.8 L79.6,649.7 L80.0,651.6 L80.3,653.6 L80.6,655.6 L81.0,657.7 L81.3,659.9 L81.6,662.1 L82.0,664.3 L82.3,666.6 L82.6,669.0 L83.0,671.3 L83.3,673.7 L83.6,676.2 L84.0,678.6 L84.3,681.1 L84.6,683.6 L85.0,686.0 L85.3,688.5 L85.6,691.0 L86.0,693.5 L86.3,696.0 L86.6,698.4 L88.1,708.7 L89.5,718.5 L90.9,727.6 L92.3,736.0 L93.8,743.8 L95.2,750.8 L96.6,757.2 L98.0,763.0 L99.5,768.3 L100.9,773.0 L102.3,777.4 L103.7,781.3 L105.2,784.9 L106.6,788.1 L108.0,791.1 L109.4,793.8 L110.9,796.3 L112.3,798.6 L113.7,800.7 L115.1,802.7 L116.6,804.5 L118.0,806.2 L119.4,807.7 L120.8,809.1 L122.3,810.5 L123.7,811.7 L125.1,812.9 L126.5,813.9 L128.0,815.0 L129.4,815.9 L130.8,816.8 L132.2,817.6 L133.7,818.4 L135.1,819.2 L136.5,819.8 L137.9,820.5 L139.4,821.1 L140.8,821.7 L142.2,822.3 L143.6,822.8 L145.1,823.3 L146.5,823.8 L147.9,824.2 L149.3,824.6 L150.8,825.0 L152.2,825.4 L153.6,825.8 L155.1,826.1 L156.5,826.4 L157.9,826.8 L159.3,827.1 L160.8,827.3 L162.2,827.6 L163.6,827.9 L165.0,828.1 L166.5,828.4 L167.9,828.6 L169.3,828.8 L170.7,829.0 L172.2,829.2 L173.6,829.4 L175.0,829.6 L176.4,829.8 L177.9,829.9 L179.3,830.1 L180.7,830.3 L182.1,830.4 L183.6,830.6 L185.0,830.7 L186.4,830.8 L192.0,831.3 L197.5,831.7 L203.0,832.1 L208.6,832.5 L214.1,832.8 L219.7,833.1 L225.2,833.3 L230.8,833.6 L236.3,833.8 L241.8,834.1 L247.4,834.3 L252.9,834.5 L258.5,834.7 L264.0,835.0 L269.6,835.2 L275.1,835.4 L280.6,835.6 L286.2,835.8 L291.7,836.0 L297.3,836.2 L302.8,836.3 L308.4,836.5 L313.9,836.7 L319.5,836.9 L325.0,837.1 L330.5,837.3 L336.1,837.5 L341.6,837.7 L347.2,837.9 L352.7,838.0 L358.3,838.2 L363.8,838.4 L369.3,838.6 L374.9,838.8 L380.4,839.0 L386.0,839.2 L391.5,839.3 L397.1,839.5 L402.6,839.7" stroke="#000000" stroke-width="1.8" stroke-dasharray="13.4 2.5 2.4 2.5"/>
<path d="M70.0,606.0 L70.3,607.6 L70.7,609.3 L71.0,610.9 L71.3,612.4 L71.7,614.0 L72.0,615.5 L72.3,616.9 L72.7,618.4 L73.0,619.8 L73.3,621.2 L73.7,622.6 L74.0,624.0 L74.3,625.3 L74.7,626.7 L75.0,628.1 L75.3,629.5 L75.7,630.9 L76.0,632.4 L76.3,633.8 L76.7,635.3 L77.0,636.9 L77.3,638.4 L77.6,640.1 L78.0,641.8 L78.3,643.5 L78.6,645.3 L79.0,647.1 L79.3,649.0 L79.6,651.0 L80.0,653.0 L80.3,655.1 L80.6,657.2 L81.0,659.4 L81.3,661.7 L81.6,664.0 L82.0,666.3 L82.3,668.7 L82.6,671.1 L83.0,673.6 L83.3,676.1 L83.6,678.6 L84.0,681.1 L84.3,683.6 L84.6,686.2 L85.0,688.7 L85.3,691.2 L85.6,693.8 L86.0,696.3 L86.3,698.8 L86.6,701.3 L88.1,711.7 L89.5,721.5 L90.9,730.6 L92.3,739.0 L93.8,746.7 L95.2,753.7 L96.6,760.0 L98.0,765.7 L99.5,770.9 L100.9,775.5 L102.3,779.7 L103.7,783.6 L105.2,787.1 L106.6,790.2 L108.0,793.1 L109.4,795.7 L110.9,798.2 L112.3,800.4 L113.7,802.4 L115.1,804.3 L116.6,806.0 L118.0,807.6 L119.4,809.1 L120.8,810.5 L122.3,811.7 L123.7,812.9 L125.1,814.0 L126.5,815.1 L128.0,816.0 L129.4,816.9 L130.8,817.8 L132.2,818.6 L133.7,819.3 L135.1,820.1 L136.5,820.7 L137.9,821.3 L139.4,821.9 L140.8,822.5 L142.2,823.0 L143.6,823.5 L145.1,824.0 L146.5,824.4 L147.9,824.9 L149.3,825.3 L150.8,825.7 L152.2,826.0 L153.6,826.4 L155.1,826.7 L156.5,827.0 L157.9,827.3 L159.3,827.6 L160.8,827.9 L162.2,828.1 L163.6,828.4 L165.0,828.6 L166.5,828.8 L167.9,829.1 L169.3,829.3 L170.7,829.5 L172.2,829.7 L173.6,829.8 L175.0,830.0 L176.4,830.2 L177.9,830.3 L179.3,830.5 L180.7,830.6 L182.1,830.8 L183.6,830.9 L185.0,831.1 L186.4,831.2 L192.0,831.7 L197.5,832.1 L203.0,832.4 L208.6,832.8 L214.1,833.1 L219.7,833.3 L225.2,833.6 L230.8,833.8 L236.3,834.1 L241.8,834.3 L247.4,834.5 L252.9,834.7 L258.5,834.9 L264.0,835.1 L269.6,835.3 L275.1,835.5 L280.6,835.7 L286.2,835.9 L291.7,836.1 L297.3,836.3 L302.8,836.5 L308.4,836.7 L313.9,836.8 L319.5,837.0 L325.0,837.2 L330.5,837.4 L336.1,837.6 L341.6,837.7 L347.2,837.9 L352.7,838.1 L358.3,838.3 L363.8,838.5 L369.3,838.6 L374.9,838.8 L380.4,839.0 L386.0,839.2 L391.5,839.3 L397.1,839.5 L402.6,839.7" stroke="#0000ff" stroke-width="1.8" stroke-dasharray="13.4 2.5 2.4 2.5"/>
<path d="M70.0,606.0 L70.3,607.7 L70.7,609.4 L71.0,611.1 L71.3,612.7 L71.7,614.2 L72.0,615.7 L72.3,617.2 L72.7,618.7 L73.0,620.1 L73.3,621.5 L73.7,622.8 L74.0,624.2 L74.3,625.6 L74.7,626.9 L75.0,628.2 L75.3,629.6 L75.7,631.0 L76.0,632.4 L76.3,633.8 L76.7,635.2 L77.0,636.7 L77.3,638.2 L77.6,639.8 L78.0,641.4 L78.3,643.1 L78.6,644.8 L79.0,646.6 L79.3,648.4 L79.6,650.3 L80.0,652.3 L80.3,654.3 L80.6,656.4 L81.0,658.5 L81.3,660.7 L81.6,662.9 L82.0,665.2 L82.3,667.5 L82.6,669.9 L83.0,672.3 L83.3,674.7 L83.6,677.2 L84.0,679.7 L84.3,682.1 L84.6,684.6 L85.0,687.1 L85.3,689.6 L85.6,692.1 L86.0,694.6 L86.3,697.1 L86.6,699.6 L88.1,709.9 L89.5,719.6 L90.9,728.7 L92.3,737.1 L93.8,744.8 L95.2,751.8 L96.6,758.2 L98.0,763.9 L99.5,769.1 L100.9,773.8 L102.3,778.1 L103.7,782.0 L105.2,785.5 L106.6,788.8 L108.0,791.7 L109.4,794.4 L110.9,796.9 L112.3,799.1 L113.7,801.2 L115.1,803.1 L116.6,804.9 L118.0,806.6 L119.4,808.1 L120.8,809.5 L122.3,810.8 L123.7,812.0 L125.1,813.2 L126.5,814.3 L128.0,815.3 L129.4,816.2 L130.8,817.1 L132.2,817.9 L133.7,818.7 L135.1,819.4 L136.5,820.1 L137.9,820.7 L139.4,821.3 L140.8,821.9 L142.2,822.5 L143.6,823.0 L145.1,823.5 L146.5,823.9 L147.9,824.4 L149.3,824.8 L150.8,825.2 L152.2,825.6 L153.6,825.9 L155.1,826.3 L156.5,826.6 L157.9,826.9 L159.3,827.2 L160.8,827.5 L162.2,827.8 L163.6,828.0 L165.0,828.3 L166.5,828.5 L167.9,828.7 L169.3,829.0 L170.7,829.2 L172.2,829.4 L173.6,829.5 L175.0,829.7 L176.4,829.9 L177.9,830.1 L179.3,830.2 L180.7,830.4 L182.1,830.5 L183.6,830.7 L185.0,830.8 L186.4,831.0 L192.0,831.4 L197.5,831.9 L203.0,832.2 L208.6,832.6 L214.1,832.9 L219.7,833.2 L225.2,833.4 L230.8,833.7 L236.3,833.9 L241.8,834.2 L247.4,834.4 L252.9,834.6 L258.5,834.8 L264.0,835.0 L269.6,835.2 L275.1,835.4 L280.6,835.6 L286.2,835.8 L291.7,836.0 L297.3,836.2 L302.8,836.4 L308.4,836.6 L313.9,836.8 L319.5,837.0 L325.0,837.1 L330.5,837.3 L336.1,837.5 L341.6,837.7 L347.2,837.9 L352.7,838.1 L358.3,838.3 L363.8,838.4 L369.3,838.6 L374.9,838.8 L380.4,839.0 L386.0,839.2 L391.5,839.3 L397.1,839.5 L402.6,839.7" stroke="#2e8b57" stroke-width="1.8" stroke-dasharray="13.4 2.5 2.4 2.5"/>
<path d="M70.0,606.0 L70.3,607.5 L70.7,609.1 L71.0,610.6 L71.3,612.1 L71.7,613.5 L72.0,615.0 L72.3,616.4 L72.7,617.9 L73.0,619.3 L73.3,620.7 L73.7,622.0 L74.0,623.4 L74.3,624.8 L74.7,626.2 L75.0,627.6 L75.3,629.1 L75.7,630.5 L76.0,632.0 L76.3,633.5 L76.7,635.0 L77.0,636.6 L77.3,638.2 L77.6,639.9 L78.0,641.7 L78.3,643.4 L78.6,645.3 L79.0,647.2 L79.3,649.1 L79.6,651.2 L80.0,653.3 L80.3,655.4 L80.6,657.6 L81.0,659.8 L81.3,662.1 L81.6,664.5 L82.0,666.9 L82.3,669.3 L82.6,671.8 L83.0,674.3 L83.3,676.8 L83.6,679.4 L84.0,681.9 L84.3,684.5 L84.6,687.1 L85.0,689.6 L85.3,692.2 L85.6,694.8 L86.0,697.3 L86.3,699.9 L86.6,702.4 L88.1,712.9 L89.5,722.8 L90.9,731.9 L92.3,740.4 L93.8,748.0 L95.2,755.0 L96.6,761.3 L98.0,766.9 L99.5,772.0 L100.9,776.7 L102.3,780.8 L103.7,784.6 L105.2,788.1 L106.6,791.2 L108.0,794.0 L109.4,796.6 L110.9,799.0 L112.3,801.2 L113.7,803.2 L115.1,805.0 L116.6,806.7 L118.0,808.2 L119.4,809.7 L120.8,811.0 L122.3,812.3 L123.7,813.5 L125.1,814.5 L126.5,815.5 L128.0,816.5 L129.4,817.4 L130.8,818.2 L132.2,819.0 L133.7,819.7 L135.1,820.4 L136.5,821.1 L137.9,821.7 L139.4,822.2 L140.8,822.8 L142.2,823.3 L143.6,823.8 L145.1,824.3 L146.5,824.7 L147.9,825.1 L149.3,825.5 L150.8,825.9 L152.2,826.2 L153.6,826.6 L155.1,826.9 L156.5,827.2 L157.9,827.5 L159.3,827.8 L160.8,828.1 L162.2,828.3 L163.6,828.6 L165.0,828.8 L166.5,829.0 L167.9,829.2 L169.3,829.4 L170.7,829.6 L172.2,829.8 L173.6,830.0 L175.0,830.2 L176.4,830.3 L177.9,830.5 L179.3,830.6 L180.7,830.8 L182.1,830.9 L183.6,831.1 L185.0,831.2 L186.4,831.3 L192.0,831.8 L197.5,832.2 L203.0,832.5 L208.6,832.9 L214.1,833.2 L219.7,833.4 L225.2,833.7 L230.8,833.9 L236.3,834.2 L241.8,834.4 L247.4,834.6 L252.9,834.8 L258.5,835.0 L264.0,835.2 L269.6,835.4 L275.1,835.6 L280.6,835.8 L286.2,836.0 L291.7,836.2 L297.3,836.3 L302.8,836.5 L308.4,836.7 L313.9,836.9 L319.5,837.1 L325.0,837.2 L330.5,837.4 L336.1,837.6 L341.6,837.8 L347.2,838.0 L352.7,838.1 L358.3,838.3 L363.8,838.5 L369.3,838.7 L374.9,838.8 L380.4,839.0 L386.0,839.2 L391.5,839.4 L397.1,839.5 L402.6,839.7" stroke="#ff0000" stroke-width="1.8" stroke-dasharray="13.4 2.5 2.4 2.5"/>
<path d="M70.0,839.7 L70.3,839.7 L70.7,839.7 L71.0,839.7 L71.3,839.7 L71.7,839.7 L72.0,839.7 L72.3,839.6 L72.7,839.6 L73.0,839.5 L73.3,839.4 L73.7,839.2 L74.0,839.1 L74.3,838.8 L74.7,838.5 L75.0,838.2 L75.3,837.7 L75.7,837.2 L76.0,836.6 L76.3,835.9 L76.7,835.1 L77.0,834.2 L77.3,833.2 L77.6,832.0 L78.0,830.7 L78.3,829.4 L78.6,827.8 L79.0,826.2 L79.3,824.4 L79.6,822.5 L80.0,820.5 L80.3,818.4 L80.6,816.2 L81.0,813.9 L81.3,811.5 L81.6,809.0 L82.0,806.5 L82.3,803.9 L82.6,801.2 L83.0,798.5 L83.3,795.7 L83.6,792.9 L84.0,790.2 L84.3,787.3 L84.6,784.5 L85.0,781.7 L85.3,778.9 L85.6,776.2 L86.0,773.4 L86.3,770.7 L86.6,768.0 L88.1,756.9 L89.5,746.6 L90.9,737.3 L92.3,728.9 L93.8,721.4 L95.2,714.7 L96.6,708.8 L98.0,703.6 L99.5,699.0 L100.9,695.0 L102.3,691.5 L103.7,688.4 L105.2,685.7 L106.6,683.3 L108.0,681.2 L109.4,679.4 L110.9,677.9 L112.3,676.5 L113.7,675.4 L115.1,674.4 L116.6,673.5 L118.0,672.9 L119.4,672.3 L120.8,671.9 L122.3,671.5 L123.7,671.3 L125.1,671.1 L126.5,671.0 L128.0,671.0 L129.4,671.1 L130.8,671.2 L132.2,671.4 L133.7,671.6 L135.1,671.9 L136.5,672.2 L137.9,672.6 L139.4,673.0 L140.8,673.4 L142.2,673.9 L143.6,674.4 L145.1,674.9 L146.5,675.5 L147.9,676.0 L149.3,676.6 L150.8,677.3 L152.2,677.9 L153.6,678.6 L155.1,679.2 L156.5,679.9 L157.9,680.7 L159.3,681.4 L160.8,682.1 L162.2,682.9 L163.6,683.6 L165.0,684.4 L166.5,685.2 L167.9,686.0 L169.3,686.8 L170.7,687.6 L172.2,688.5 L173.6,689.3 L175.0,690.1 L176.4,691.0 L177.9,691.8 L179.3,692.7 L180.7,693.6 L182.1,694.4 L183.6,695.3 L185.0,696.2 L186.4,697.1 L192.0,700.5 L197.5,704.0 L203.0,707.6 L208.6,711.2 L214.1,714.8 L219.7,718.4 L225.2,722.0 L230.8,725.7 L236.3,729.3 L241.8,733.0 L247.4,736.6 L252.9,740.3 L258.5,744.0 L264.0,747.6 L269.6,751.3 L275.1,755.0 L280.6,758.7 L286.2,762.3 L291.7,766.0 L297.3,769.7 L302.8,773.4 L308.4,777.1 L313.9,780.7 L319.5,784.4 L325.0,788.1 L330.5,791.8 L336.1,795.5 L341.6,799.2 L347.2,802.8 L352.7,806.5 L358.3,810.2 L363.8,813.9 L369.3,817.6 L374.9,821.3 L380.4,825.0 L386.0,828.6 L391.5,832.3 L397.1,836.0 L402.6,839.7" stroke="#00ffff" stroke-width="1.5" stroke-dasharray="9.6 6.1"/>
<path d="M70.0,839.7 L70.3,839.7 L70.7,839.7 L71.0,839.7 L71.3,839.7 L71.7,839.7 L72.0,839.7 L72.3,839.7 L72.7,839.6 L73.0,839.6 L73.3,839.5 L73.7,839.4 L74.0,839.3 L74.3,839.2 L74.7,839.0 L75.0,838.8 L75.3,838.5 L75.7,838.2 L76.0,837.9 L76.3,837.5 L76.7,837.0 L77.0,836.4 L77.3,835.8 L77.6,835.2 L78.0,834.4 L78.3,833.6 L78.6,832.6 L79.0,831.7 L79.3,830.6 L79.6,829.4 L80.0,828.2 L80.3,826.9 L80.6,825.5 L81.0,824.0 L81.3,822.4 L81.6,820.8 L82.0,819.1 L82.3,817.4 L82.6,815.6 L83.0,813.8 L83.3,811.9 L83.6,809.9 L84.0,808.0 L84.3,806.0 L84.6,804.0 L85.0,801.9 L85.3,799.9 L85.6,797.8 L86.0,795.8 L86.3,793.7 L86.6,791.7 L88.1,783.0 L89.5,774.7 L90.9,767.0 L92.3,759.8 L93.8,753.3 L95.2,747.4 L96.6,742.1 L98.0,737.3 L99.5,733.0 L100.9,729.2 L102.3,725.8 L103.7,722.7 L105.2,720.0 L106.6,717.6 L108.0,715.4 L109.4,713.5 L110.9,711.8 L112.3,710.2 L113.7,708.9 L115.1,707.7 L116.6,706.6 L118.0,705.7 L119.4,704.9 L120.8,704.2 L122.3,703.6 L123.7,703.1 L125.1,702.7 L126.5,702.3 L128.0,702.1 L129.4,701.8 L130.8,701.7 L132.2,701.6 L133.7,701.5 L135.1,701.5 L136.5,701.6 L137.9,701.6 L139.4,701.8 L140.8,701.9 L142.2,702.1 L143.6,702.3 L145.1,702.6 L146.5,702.9 L147.9,703.2 L149.3,703.5 L150.8,703.9 L152.2,704.2 L153.6,704.6 L155.1,705.1 L156.5,705.5 L157.9,706.0 L159.3,706.4 L160.8,706.9 L162.2,707.4 L163.6,708.0 L165.0,708.5 L166.5,709.0 L167.9,709.6 L169.3,710.2 L170.7,710.8 L172.2,711.4 L173.6,712.0 L175.0,712.6 L176.4,713.2 L177.9,713.9 L179.3,714.5 L180.7,715.2 L182.1,715.8 L183.6,716.5 L185.0,717.2 L186.4,717.9 L192.0,720.6 L197.5,723.4 L203.0,726.3 L208.6,729.2 L214.1,732.2 L219.7,735.2 L225.2,738.2 L230.8,741.3 L236.3,744.4 L241.8,747.5 L247.4,750.6 L252.9,753.8 L258.5,756.9 L264.0,760.1 L269.6,763.2 L275.1,766.4 L280.6,769.5 L286.2,772.7 L291.7,775.9 L297.3,779.1 L302.8,782.3 L308.4,785.4 L313.9,788.6 L319.5,791.8 L325.0,795.0 L330.5,798.2 L336.1,801.4 L341.6,804.6 L347.2,807.8 L352.7,811.0 L358.3,814.1 L363.8,817.3 L369.3,820.5 L374.9,823.7 L380.4,826.9 L386.0,830.1 L391.5,833.3 L397.1,836.5 L402.6,839.7" stroke="#000000" stroke-width="1.5" stroke-dasharray="9.6 6.1"/>
<path d="M70.0,839.7 L70.3,839.7 L70.7,839.7 L71.0,839.7 L71.3,839.7 L71.7,839.7 L72.0,839.7 L72.3,839.7 L72.7,839.6 L73.0,839.6 L73.3,839.5 L73.7,839.4 L74.0,839.3 L74.3,839.2 L74.7,839.0 L75.0,838.8 L75.3,838.5 L75.7,838.2 L76.0,837.9 L76.3,837.5 L76.7,837.0 L77.0,836.4 L77.3,835.8 L77.6,835.2 L78.0,834.4 L78.3,833.6 L78.6,832.7 L79.0,831.7 L79.3,830.6 L79.6,829.5 L80.0,828.3 L80.3,827.0 L80.6,825.6 L81.0,824.1 L81.3,822.6 L81.6,821.0 L82.0,819.4 L82.3,817.7 L82.6,815.9 L83.0,814.1 L83.3,812.3 L83.6,810.4 L84.0,808.5 L84.3,806.5 L84.6,804.6 L85.0,802.6 L85.3,800.6 L85.6,798.6 L86.0,796.6 L86.3,794.6 L86.6,792.6 L88.1,784.3 L89.5,776.3 L90.9,768.9 L92.3,762.1 L93.8,756.0 L95.2,750.4 L96.6,745.4 L98.0,740.9 L99.5,736.9 L100.9,733.3 L102.3,730.1 L103.7,727.3 L105.2,724.7 L106.6,722.5 L108.0,720.5 L109.4,718.7 L110.9,717.1 L112.3,715.7 L113.7,714.5 L115.1,713.3 L116.6,712.4 L118.0,711.5 L119.4,710.8 L120.8,710.1 L122.3,709.6 L123.7,709.1 L125.1,708.7 L126.5,708.4 L128.0,708.1 L129.4,707.9 L130.8,707.7 L132.2,707.6 L133.7,707.6 L135.1,707.6 L136.5,707.6 L137.9,707.7 L139.4,707.8 L140.8,707.9 L142.2,708.1 L143.6,708.3 L145.1,708.5 L146.5,708.8 L147.9,709.0 L149.3,709.3 L150.8,709.7 L152.2,710.0 L153.6,710.4 L155.1,710.8 L156.5,711.2 L157.9,711.6 L159.3,712.1 L160.8,712.5 L162.2,713.0 L163.6,713.5 L165.0,714.0 L166.5,714.5 L167.9,715.0 L169.3,715.6 L170.7,716.1 L172.2,716.7 L173.6,717.3 L175.0,717.9 L176.4,718.5 L177.9,719.1 L179.3,719.7 L180.7,720.3 L182.1,720.9 L183.6,721.6 L185.0,722.2 L186.4,722.8 L192.0,725.4 L197.5,728.1 L203.0,730.8 L208.6,733.6 L214.1,736.5 L219.7,739.3 L225.2,742.3 L230.8,745.2 L236.3,748.2 L241.8,751.1 L247.4,754.1 L252.9,757.1 L258.5,760.1 L264.0,763.2 L269.6,766.2 L275.1,769.2 L280.6,772.3 L286.2,775.3 L291.7,778.4 L297.3,781.4 L302.8,784.5 L308.4,787.6 L313.9,790.6 L319.5,793.7 L325.0,796.7 L330.5,799.8 L336.1,802.9 L341.6,805.9 L347.2,809.0 L352.7,812.1 L358.3,815.1 L363.8,818.2 L369.3,821.3 L374.9,824.3 L380.4,827.4 L386.0,830.5 L391.5,833.6 L397.1,836.6 L402.6,839.7" stroke="#0000ff" stroke-width="1.5" stroke-dasharray="9.6 6.1"/>
<path d="M70.0,839.7 L70.3,839.7 L70.7,839.7 L71.0,839.7 L71.3,839.7 L71.7,839.7 L72.0,839.7 L72.3,839.7 L72.7,839.6 L73.0,839.6 L73.3,839.5 L73.7,839.4 L74.0,839.3 L74.3,839.2 L74.7,839.0 L75.0,838.8 L75.3,838.5 L75.7,838.2 L76.0,837.9 L76.3,837.5 L76.7,837.0 L77.0,836.4 L77.3,835.8 L77.6,835.2 L78.0,834.4 L78.3,833.6 L78.6,832.7 L79.0,831.7 L79.3,830.6 L79.6,829.5 L80.0,828.2 L80.3,826.9 L80.6,825.5 L81.0,824.0 L81.3,822.5 L81.6,820.9 L82.0,819.2 L82.3,817.5 L82.6,815.7 L83.0,813.9 L83.3,812.0 L83.6,810.1 L84.0,808.2 L84.3,806.2 L84.6,804.2 L85.0,802.2 L85.3,800.2 L85.6,798.1 L86.0,796.1 L86.3,794.1 L86.6,792.0 L88.1,783.5 L89.5,775.3 L90.9,767.7 L92.3,760.7 L93.8,754.3 L95.2,748.4 L96.6,743.2 L98.0,738.5 L99.5,734.3 L100.9,730.5 L102.3,727.2 L103.7,724.1 L105.2,721.5 L106.6,719.1 L108.0,716.9 L109.4,715.0 L110.9,713.3 L112.3,711.8 L113.7,710.5 L115.1,709.3 L116.6,708.3 L118.0,707.4 L119.4,706.6 L120.8,705.9 L122.3,705.3 L123.7,704.8 L125.1,704.3 L126.5,704.0 L128.0,703.7 L129.4,703.5 L130.8,703.3 L132.2,703.2 L133.7,703.2 L135.1,703.2 L136.5,703.2 L137.9,703.3 L139.4,703.4 L140.8,703.6 L142.2,703.8 L143.6,704.0 L145.1,704.2 L146.5,704.5 L147.9,704.8 L149.3,705.2 L150.8,705.5 L152.2,705.9 L153.6,706.3 L155.1,706.7 L156.5,707.2 L157.9,707.7 L159.3,708.1 L160.8,708.6 L162.2,709.1 L163.6,709.7 L165.0,710.2 L166.5,710.8 L167.9,711.3 L169.3,711.9 L170.7,712.5 L172.2,713.1 L173.6,713.7 L175.0,714.3 L176.4,715.0 L177.9,715.6 L179.3,716.3 L180.7,716.9 L182.1,717.6 L183.6,718.2 L185.0,718.9 L186.4,719.6 L192.0,722.3 L197.5,725.1 L203.0,728.0 L208.6,730.9 L214.1,733.8 L219.7,736.8 L225.2,739.8 L230.8,742.9 L236.3,745.9 L241.8,749.0 L247.4,752.1 L252.9,755.2 L258.5,758.3 L264.0,761.4 L269.6,764.5 L275.1,767.6 L280.6,770.7 L286.2,773.8 L291.7,777.0 L297.3,780.1 L302.8,783.2 L308.4,786.4 L313.9,789.5 L319.5,792.6 L325.0,795.8 L330.5,798.9 L336.1,802.0 L341.6,805.2 L347.2,808.3 L352.7,811.4 L358.3,814.6 L363.8,817.7 L369.3,820.9 L374.9,824.0 L380.4,827.1 L386.0,830.3 L391.5,833.4 L397.1,836.6 L402.6,839.7" stroke="#2e8b57" stroke-width="1.5" stroke-dasharray="9.6 6.1"/>
<path d="M70.0,839.7 L70.3,839.7 L70.7,839.7 L71.0,839.7 L71.3,839.7 L71.7,839.7 L72.0,839.7 L72.3,839.7 L72.7,839.6 L73.0,839.6 L73.3,839.5 L73.7,839.4 L74.0,839.3 L74.3,839.2 L74.7,839.0 L75.0,838.8 L75.3,838.5 L75.7,838.2 L76.0,837.9 L76.3,837.5 L76.7,837.0 L77.0,836.4 L77.3,835.8 L77.6,835.2 L78.0,834.4 L78.3,833.6 L78.6,832.7 L79.0,831.7 L79.3,830.6 L79.6,829.5 L80.0,828.3 L80.3,827.0 L80.6,825.6 L81.0,824.2 L81.3,822.7 L81.6,821.1 L82.0,819.4 L82.3,817.7 L82.6,816.0 L83.0,814.2 L83.3,812.4 L83.6,810.5 L84.0,808.6 L84.3,806.7 L84.6,804.8 L85.0,802.8 L85.3,800.8 L85.6,798.9 L86.0,796.9 L86.3,795.0 L86.6,793.0 L88.1,784.8 L89.5,777.0 L90.9,769.8 L92.3,763.2 L93.8,757.1 L95.2,751.7 L96.6,746.9 L98.0,742.5 L99.5,738.7 L100.9,735.2 L102.3,732.1 L103.7,729.4 L105.2,726.9 L106.6,724.8 L108.0,722.8 L109.4,721.1 L110.9,719.6 L112.3,718.2 L113.7,717.0 L115.1,715.9 L116.6,714.9 L118.0,714.1 L119.4,713.3 L120.8,712.7 L122.3,712.1 L123.7,711.6 L125.1,711.2 L126.5,710.9 L128.0,710.6 L129.4,710.4 L130.8,710.2 L132.2,710.1 L133.7,710.0 L135.1,710.0 L136.5,710.0 L137.9,710.0 L139.4,710.1 L140.8,710.2 L142.2,710.4 L143.6,710.6 L145.1,710.8 L146.5,711.0 L147.9,711.3 L149.3,711.6 L150.8,711.9 L152.2,712.2 L153.6,712.5 L155.1,712.9 L156.5,713.3 L157.9,713.7 L159.3,714.1 L160.8,714.6 L162.2,715.1 L163.6,715.5 L165.0,716.0 L166.5,716.5 L167.9,717.0 L169.3,717.6 L170.7,718.1 L172.2,718.7 L173.6,719.2 L175.0,719.8 L176.4,720.4 L177.9,721.0 L179.3,721.6 L180.7,722.2 L182.1,722.8 L183.6,723.4 L185.0,724.0 L186.4,724.7 L192.0,727.2 L197.5,729.9 L203.0,732.6 L208.6,735.3 L214.1,738.1 L219.7,741.0 L225.2,743.8 L230.8,746.7 L236.3,749.6 L241.8,752.6 L247.4,755.5 L252.9,758.5 L258.5,761.5 L264.0,764.4 L269.6,767.4 L275.1,770.4 L280.6,773.4 L286.2,776.4 L291.7,779.4 L297.3,782.4 L302.8,785.4 L308.4,788.4 L313.9,791.4 L319.5,794.5 L325.0,797.5 L330.5,800.5 L336.1,803.5 L341.6,806.5 L347.2,809.5 L352.7,812.5 L358.3,815.6 L363.8,818.6 L369.3,821.6 L374.9,824.6 L380.4,827.6 L386.0,830.6 L391.5,833.7 L397.1,836.7 L402.6,839.7" stroke="#ff0000" stroke-width="1.5" stroke-dasharray="9.6 6.1"/>
<path d="M70.0,839.7 L70.3,838.2 L70.7,836.6 L71.0,835.2 L71.3,833.8 L71.7,832.5 L72.0,831.2 L72.3,830.0 L72.7,828.8 L73.0,827.7 L73.3,826.6 L73.7,825.6 L74.0,824.6 L74.3,823.6 L74.7,822.7 L75.0,821.9 L75.3,821.1 L75.7,820.3 L76.0,819.5 L76.3,818.8 L76.7,818.1 L77.0,817.4 L77.3,816.8 L77.6,816.2 L78.0,815.6 L78.3,815.0 L78.6,814.5 L79.0,814.0 L79.3,813.5 L79.6,813.1 L80.0,812.6 L80.3,812.2 L80.6,811.8 L81.0,811.4 L81.3,811.0 L81.6,810.7 L82.0,810.4 L82.3,810.0 L82.6,809.7 L83.0,809.4 L83.3,809.2 L83.6,808.9 L84.0,808.6 L84.3,808.4 L84.6,808.2 L85.0,808.0 L85.3,807.7 L85.6,807.5 L86.0,807.4 L86.3,807.2 L86.6,807.0 L88.1,806.4 L89.5,805.9 L90.9,805.5 L92.3,805.2 L93.8,805.0 L95.2,804.9 L96.6,804.8 L98.0,804.8 L99.5,804.8 L100.9,804.9 L102.3,805.0 L103.7,805.1 L105.2,805.2 L106.6,805.4 L108.0,805.6 L109.4,805.8 L110.9,806.0 L112.3,806.2 L113.7,806.5 L115.1,806.7 L116.6,807.0 L118.0,807.2 L119.4,807.5 L120.8,807.8 L122.3,808.0 L123.7,808.3 L125.1,808.6 L126.5,808.8 L128.0,809.1 L129.4,809.4 L130.8,809.7 L132.2,809.9 L133.7,810.2 L135.1,810.5 L136.5,810.7 L137.9,811.0 L139.4,811.3 L140.8,811.5 L142.2,811.8 L143.6,812.0 L145.1,812.3 L146.5,812.5 L147.9,812.8 L149.3,813.0 L150.8,813.3 L152.2,813.5 L153.6,813.8 L155.1,814.0 L156.5,814.2 L157.9,814.4 L159.3,814.7 L160.8,814.9 L162.2,815.1 L163.6,815.3 L165.0,815.5 L166.5,815.8 L167.9,816.0 L169.3,816.2 L170.7,816.4 L172.2,816.6 L173.6,816.8 L175.0,817.0 L176.4,817.2 L177.9,817.4 L179.3,817.6 L180.7,817.8 L182.1,817.9 L183.6,818.1 L185.0,818.3 L186.4,818.5 L192.0,819.2 L197.5,819.8 L203.0,820.5 L208.6,821.1 L214.1,821.7 L219.7,822.3 L225.2,822.9 L230.8,823.4 L236.3,824.0 L241.8,824.6 L247.4,825.1 L252.9,825.6 L258.5,826.2 L264.0,826.7 L269.6,827.2 L275.1,827.8 L280.6,828.3 L286.2,828.8 L291.7,829.3 L297.3,829.9 L302.8,830.4 L308.4,830.9 L313.9,831.4 L319.5,831.9 L325.0,832.5 L330.5,833.0 L336.1,833.5 L341.6,834.0 L347.2,834.5 L352.7,835.1 L358.3,835.6 L363.8,836.1 L369.3,836.6 L374.9,837.1 L380.4,837.6 L386.0,838.2 L391.5,838.7 L397.1,839.2 L402.6,839.7" stroke="#000000" stroke-width="1.6" stroke-dasharray="2.2 1.87"/>
<path d="M70.0,839.7 L70.3,838.3 L70.7,836.9 L71.0,835.5 L71.3,834.2 L71.7,832.9 L72.0,831.7 L72.3,830.5 L72.7,829.3 L73.0,828.2 L73.3,827.0 L73.7,826.0 L74.0,824.9 L74.3,823.9 L74.7,823.0 L75.0,822.0 L75.3,821.1 L75.7,820.2 L76.0,819.4 L76.3,818.6 L76.7,817.8 L77.0,817.0 L77.3,816.3 L77.6,815.5 L78.0,814.8 L78.3,814.2 L78.6,813.5 L79.0,812.9 L79.3,812.3 L79.6,811.7 L80.0,811.1 L80.3,810.6 L80.6,810.0 L81.0,809.5 L81.3,809.0 L81.6,808.6 L82.0,808.1 L82.3,807.7 L82.6,807.2 L83.0,806.8 L83.3,806.4 L83.6,806.0 L84.0,805.7 L84.3,805.3 L84.6,805.0 L85.0,804.7 L85.3,804.3 L85.6,804.0 L86.0,803.7 L86.3,803.4 L86.6,803.2 L88.1,802.1 L89.5,801.2 L90.9,800.5 L92.3,799.9 L93.8,799.4 L95.2,799.0 L96.6,798.7 L98.0,798.5 L99.5,798.4 L100.9,798.3 L102.3,798.2 L103.7,798.3 L105.2,798.3 L106.6,798.4 L108.0,798.5 L109.4,798.7 L110.9,798.8 L112.3,799.0 L113.7,799.3 L115.1,799.5 L116.6,799.7 L118.0,800.0 L119.4,800.3 L120.8,800.5 L122.3,800.8 L123.7,801.1 L125.1,801.4 L126.5,801.7 L128.0,802.0 L129.4,802.3 L130.8,802.6 L132.2,802.9 L133.7,803.2 L135.1,803.5 L136.5,803.8 L137.9,804.1 L139.4,804.4 L140.8,804.8 L142.2,805.1 L143.6,805.4 L145.1,805.7 L146.5,806.0 L147.9,806.2 L149.3,806.5 L150.8,806.8 L152.2,807.1 L153.6,807.4 L155.1,807.7 L156.5,808.0 L157.9,808.2 L159.3,808.5 L160.8,808.8 L162.2,809.0 L163.6,809.3 L165.0,809.6 L166.5,809.8 L167.9,810.1 L169.3,810.3 L170.7,810.6 L172.2,810.8 L173.6,811.1 L175.0,811.3 L176.4,811.5 L177.9,811.8 L179.3,812.0 L180.7,812.2 L182.1,812.5 L183.6,812.7 L185.0,812.9 L186.4,813.2 L192.0,814.0 L197.5,814.8 L203.0,815.6 L208.6,816.4 L214.1,817.1 L219.7,817.9 L225.2,818.6 L230.8,819.3 L236.3,820.0 L241.8,820.7 L247.4,821.4 L252.9,822.1 L258.5,822.7 L264.0,823.4 L269.6,824.1 L275.1,824.7 L280.6,825.4 L286.2,826.1 L291.7,826.7 L297.3,827.4 L302.8,828.0 L308.4,828.7 L313.9,829.3 L319.5,830.0 L325.0,830.6 L330.5,831.3 L336.1,831.9 L341.6,832.6 L347.2,833.2 L352.7,833.9 L358.3,834.5 L363.8,835.2 L369.3,835.8 L374.9,836.5 L380.4,837.1 L386.0,837.8 L391.5,838.4 L397.1,839.1 L402.6,839.7" stroke="#0000ff" stroke-width="1.6" stroke-dasharray="2.2 1.87"/>
<path d="M70.0,839.7 L70.3,838.2 L70.7,836.8 L71.0,835.3 L71.3,834.0 L71.7,832.7 L72.0,831.4 L72.3,830.2 L72.7,829.0 L73.0,827.8 L73.3,826.8 L73.7,825.7 L74.0,824.7 L74.3,823.7 L74.7,822.8 L75.0,821.9 L75.3,821.0 L75.7,820.2 L76.0,819.4 L76.3,818.6 L76.7,817.9 L77.0,817.2 L77.3,816.5 L77.6,815.8 L78.0,815.2 L78.3,814.6 L78.6,814.0 L79.0,813.5 L79.3,812.9 L79.6,812.4 L80.0,811.9 L80.3,811.4 L80.6,811.0 L81.0,810.6 L81.3,810.1 L81.6,809.7 L82.0,809.4 L82.3,809.0 L82.6,808.6 L83.0,808.3 L83.3,808.0 L83.6,807.7 L84.0,807.4 L84.3,807.1 L84.6,806.8 L85.0,806.6 L85.3,806.3 L85.6,806.1 L86.0,805.9 L86.3,805.7 L86.6,805.5 L88.1,804.7 L89.5,804.1 L90.9,803.6 L92.3,803.3 L93.8,803.0 L95.2,802.8 L96.6,802.7 L98.0,802.7 L99.5,802.7 L100.9,802.7 L102.3,802.8 L103.7,802.9 L105.2,803.1 L106.6,803.3 L108.0,803.5 L109.4,803.7 L110.9,803.9 L112.3,804.1 L113.7,804.4 L115.1,804.7 L116.6,804.9 L118.0,805.2 L119.4,805.5 L120.8,805.8 L122.3,806.0 L123.7,806.3 L125.1,806.6 L126.5,806.9 L128.0,807.2 L129.4,807.5 L130.8,807.7 L132.2,808.0 L133.7,808.3 L135.1,808.6 L136.5,808.8 L137.9,809.1 L139.4,809.4 L140.8,809.6 L142.2,809.9 L143.6,810.2 L145.1,810.4 L146.5,810.7 L147.9,810.9 L149.3,811.2 L150.8,811.4 L152.2,811.7 L153.6,811.9 L155.1,812.1 L156.5,812.4 L157.9,812.6 L159.3,812.8 L160.8,813.0 L162.2,813.3 L163.6,813.5 L165.0,813.7 L166.5,813.9 L167.9,814.1 L169.3,814.3 L170.7,814.5 L172.2,814.7 L173.6,814.9 L175.0,815.1 L176.4,815.3 L177.9,815.5 L179.3,815.7 L180.7,815.9 L182.1,816.1 L183.6,816.3 L185.0,816.4 L186.4,816.6 L192.0,817.3 L197.5,818.0 L203.0,818.7 L208.6,819.3 L214.1,819.9 L219.7,820.6 L225.2,821.2 L230.8,821.8 L236.3,822.4 L241.8,823.0 L247.4,823.6 L252.9,824.2 L258.5,824.7 L264.0,825.3 L269.6,825.9 L275.1,826.5 L280.6,827.1 L286.2,827.6 L291.7,828.2 L297.3,828.8 L302.8,829.4 L308.4,829.9 L313.9,830.5 L319.5,831.1 L325.0,831.7 L330.5,832.2 L336.1,832.8 L341.6,833.4 L347.2,834.0 L352.7,834.5 L358.3,835.1 L363.8,835.7 L369.3,836.3 L374.9,836.8 L380.4,837.4 L386.0,838.0 L391.5,838.6 L397.1,839.1 L402.6,839.7" stroke="#2e8b57" stroke-width="1.6" stroke-dasharray="2.2 1.87"/>
<path d="M70.0,839.7 L70.3,838.4 L70.7,837.1 L71.0,835.8 L71.3,834.6 L71.7,833.3 L72.0,832.1 L72.3,830.9 L72.7,829.8 L73.0,828.7 L73.3,827.6 L73.7,826.5 L74.0,825.5 L74.3,824.5 L74.7,823.5 L75.0,822.5 L75.3,821.6 L75.7,820.7 L76.0,819.8 L76.3,818.9 L76.7,818.1 L77.0,817.3 L77.3,816.5 L77.6,815.7 L78.0,814.9 L78.3,814.2 L78.6,813.5 L79.0,812.8 L79.3,812.2 L79.6,811.5 L80.0,810.9 L80.3,810.3 L80.6,809.7 L81.0,809.1 L81.3,808.6 L81.6,808.0 L82.0,807.5 L82.3,807.0 L82.6,806.5 L83.0,806.0 L83.3,805.6 L83.6,805.1 L84.0,804.7 L84.3,804.3 L84.6,803.9 L85.0,803.5 L85.3,803.1 L85.6,802.7 L86.0,802.4 L86.3,802.0 L86.6,801.7 L88.1,800.4 L89.5,799.3 L90.9,798.4 L92.3,797.6 L93.8,796.9 L95.2,796.4 L96.6,796.0 L98.0,795.6 L99.5,795.4 L100.9,795.2 L102.3,795.1 L103.7,795.1 L105.2,795.1 L106.6,795.2 L108.0,795.3 L109.4,795.4 L110.9,795.6 L112.3,795.8 L113.7,796.0 L115.1,796.2 L116.6,796.5 L118.0,796.8 L119.4,797.1 L120.8,797.4 L122.3,797.7 L123.7,798.0 L125.1,798.4 L126.5,798.7 L128.0,799.0 L129.4,799.4 L130.8,799.7 L132.2,800.1 L133.7,800.4 L135.1,800.8 L136.5,801.1 L137.9,801.4 L139.4,801.8 L140.8,802.1 L142.2,802.5 L143.6,802.8 L145.1,803.1 L146.5,803.4 L147.9,803.8 L149.3,804.1 L150.8,804.4 L152.2,804.7 L153.6,805.0 L155.1,805.3 L156.5,805.6 L157.9,805.9 L159.3,806.2 L160.8,806.5 L162.2,806.8 L163.6,807.1 L165.0,807.4 L166.5,807.6 L167.9,807.9 L169.3,808.2 L170.7,808.5 L172.2,808.7 L173.6,809.0 L175.0,809.2 L176.4,809.5 L177.9,809.7 L179.3,810.0 L180.7,810.2 L182.1,810.5 L183.6,810.7 L185.0,811.0 L186.4,811.2 L192.0,812.1 L197.5,812.9 L203.0,813.8 L208.6,814.6 L214.1,815.4 L219.7,816.2 L225.2,816.9 L230.8,817.7 L236.3,818.4 L241.8,819.2 L247.4,819.9 L252.9,820.6 L258.5,821.4 L264.0,822.1 L269.6,822.8 L275.1,823.5 L280.6,824.2 L286.2,824.9 L291.7,825.6 L297.3,826.3 L302.8,827.0 L308.4,827.7 L313.9,828.4 L319.5,829.2 L325.0,829.9 L330.5,830.6 L336.1,831.3 L341.6,832.0 L347.2,832.7 L352.7,833.4 L358.3,834.1 L363.8,834.8 L369.3,835.5 L374.9,836.2 L380.4,836.9 L386.0,837.6 L391.5,838.3 L397.1,839.0 L402.6,839.7" stroke="#ff0000" stroke-width="1.6" stroke-dasharray="2.2 1.87"/>
</g>
<rect x="70.0" y="606.0" width="332.6" height="233.70000000000005" fill="none" stroke="#000" stroke-width="2"/>
<path d="M70.00,839.7 v-6.5 M70.00,606.0 v6.5 M70.0,839.70 h6.5 M402.6,839.70 h-6.5 M103.26,839.7 v-3.5 M103.26,606.0 v3.5 M70.0,816.33 h3.5 M402.6,816.33 h-3.5 M136.52,839.7 v-6.5 M136.52,606.0 v6.5 M70.0,792.96 h6.5 M402.6,792.96 h-6.5 M169.78,839.7 v-3.5 M169.78,606.0 v3.5 M70.0,769.59 h3.5 M402.6,769.59 h-3.5 M203.04,839.7 v-6.5 M203.04,606.0 v6.5 M70.0,746.22 h6.5 M402.6,746.22 h-6.5 M236.30,839.7 v-3.5 M236.30,606.0 v3.5 M70.0,722.85 h3.5 M402.6,722.85 h-3.5 M269.56,839.7 v-6.5 M269.56,606.0 v6.5 M70.0,699.48 h6.5 M402.6,699.48 h-6.5 M302.82,839.7 v-3.5 M302.82,606.0 v3.5 M70.0,676.11 h3.5 M402.6,676.11 h-3.5 M336.08,839.7 v-6.5 M336.08,606.0 v6.5 M70.0,652.74 h6.5 M402.6,652.74 h-6.5 M369.34,839.7 v-3.5 M369.34,606.0 v3.5 M70.0,629.37 h3.5 M402.6,629.37 h-3.5 M402.60,839.7 v-6.5 M402.60,606.0 v6.5 M70.0,606.00 h6.5 M402.6,606.00 h-6.5" stroke="#000" stroke-width="1.4" fill="none"/>
</g>
<path d="M328.5,63.8 H367.2" stroke="#bebebe" stroke-width="1.5"/>
<path d="M328.5,86.8 H367.2" stroke="#000" stroke-width="1.8" stroke-dasharray="13.4 2.5 2.4 2.5"/>
<path d="M328.5,110.2 H367.2" stroke="#000" stroke-width="1.5" stroke-dasharray="9.6 6.1"/>
<path d="M328.5,133.4 H367.2" stroke="#000" stroke-width="1.6" stroke-dasharray="2.2 1.87"/>
<path d="M328,348.1 H366.7" stroke="#00ffff" stroke-width="1.5"/>
<path d="M328,371.4 H366.7" stroke="#000000" stroke-width="1.5"/>
<path d="M328,394.6 H366.7" stroke="#0000ff" stroke-width="1.5"/>
<path d="M328,417.9 H366.7" stroke="#2e8b57" stroke-width="1.5"/>
<path d="M328,441.0 H366.7" stroke="#ff0000" stroke-width="1.5"/>
<g>
<rect x="559.94" y="215.66" width="31.6" height="52.24" fill="#0000ff"/>
<rect x="559.94" y="101.87" width="31.6" height="113.79" fill="#ffa500"/>
<rect x="559.94" y="59.38" width="31.6" height="42.49" fill="#2e8b57"/>
<rect x="622.28" y="216.91" width="31.6" height="50.99" fill="#0000ff"/>
<rect x="622.28" y="115.41" width="31.6" height="101.50" fill="#ffa500"/>
<rect x="622.28" y="70.08" width="31.6" height="45.33" fill="#2e8b57"/>
<rect x="684.62" y="213.79" width="31.6" height="54.11" fill="#0000ff"/>
<rect x="684.62" y="96.57" width="31.6" height="117.22" fill="#ffa500"/>
<rect x="684.62" y="46.73" width="31.6" height="49.85" fill="#2e8b57"/>
<rect x="746.96" y="213.79" width="31.6" height="54.11" fill="#0000ff"/>
<rect x="746.96" y="99.91" width="31.6" height="113.88" fill="#ffa500"/>
<rect x="746.96" y="44.96" width="31.6" height="54.95" fill="#2e8b57"/>
<path d="M513.4,71.65 H825.1" stroke="#000" stroke-width="1.45" stroke-dasharray="5.9 5.83" stroke-dashoffset="0.4" fill="none"/>
<rect x="513.4" y="32.4" width="311.70000000000005" height="235.49999999999997" fill="none" stroke="#000" stroke-width="1.8"/>
<path d="M513.4,267.90 h6.3 M825.1,267.90 h-6.3 M513.4,228.65 h6.3 M825.1,228.65 h-6.3 M513.4,189.40 h6.3 M825.1,189.40 h-6.3 M513.4,150.15 h6.3 M825.1,150.15 h-6.3 M513.4,110.90 h6.3 M825.1,110.90 h-6.3 M513.4,71.65 h6.3 M825.1,71.65 h-6.3 M513.4,32.40 h6.3 M825.1,32.40 h-6.3 M575.74,32.4 v6.3 M638.08,32.4 v6.3 M700.42,32.4 v6.3 M762.76,32.4 v6.3" stroke="#000" stroke-width="1.3" fill="none"/>
</g>
<g>
<rect x="559.94" y="500.68" width="31.6" height="52.72" fill="#0000ff"/>
<rect x="559.94" y="382.29" width="31.6" height="118.38" fill="#ffa500"/>
<rect x="559.94" y="344.99" width="31.6" height="37.30" fill="#2e8b57"/>
<rect x="622.28" y="501.26" width="31.6" height="52.14" fill="#0000ff"/>
<rect x="622.28" y="395.42" width="31.6" height="105.84" fill="#ffa500"/>
<rect x="622.28" y="347.21" width="31.6" height="48.22" fill="#2e8b57"/>
<rect x="684.62" y="500.97" width="31.6" height="52.43" fill="#0000ff"/>
<rect x="684.62" y="391.99" width="31.6" height="108.98" fill="#ffa500"/>
<rect x="684.62" y="346.62" width="31.6" height="45.37" fill="#2e8b57"/>
<rect x="746.96" y="500.34" width="31.6" height="53.06" fill="#0000ff"/>
<rect x="746.96" y="387.29" width="31.6" height="113.05" fill="#ffa500"/>
<rect x="746.96" y="339.17" width="31.6" height="48.12" fill="#2e8b57"/>
<path d="M513.4,357.40 H825.1" stroke="#000" stroke-width="1.45" stroke-dasharray="5.9 5.83" stroke-dashoffset="0.4" fill="none"/>
<rect x="513.4" y="318.2" width="311.70000000000005" height="235.2" fill="none" stroke="#000" stroke-width="1.8"/>
<path d="M513.4,553.40 h6.3 M825.1,553.40 h-6.3 M513.4,514.20 h6.3 M825.1,514.20 h-6.3 M513.4,475.00 h6.3 M825.1,475.00 h-6.3 M513.4,435.80 h6.3 M825.1,435.80 h-6.3 M513.4,396.60 h6.3 M825.1,396.60 h-6.3 M513.4,357.40 h6.3 M825.1,357.40 h-6.3 M513.4,318.20 h6.3 M825.1,318.20 h-6.3 M575.74,318.2 v6.3 M638.08,318.2 v6.3 M700.42,318.2 v6.3 M762.76,318.2 v6.3" stroke="#000" stroke-width="1.3" fill="none"/>
</g>
<g>
<rect x="559.18" y="789.11" width="31.6" height="51.49" fill="#0000ff"/>
<rect x="559.18" y="669.15" width="31.6" height="119.96" fill="#ffa500"/>
<rect x="559.18" y="641.63" width="31.6" height="27.52" fill="#2e8b57"/>
<rect x="621.56" y="788.81" width="31.6" height="51.79" fill="#0000ff"/>
<rect x="621.56" y="674.25" width="31.6" height="114.56" fill="#ffa500"/>
<rect x="621.56" y="640.71" width="31.6" height="33.54" fill="#2e8b57"/>
<rect x="683.94" y="788.95" width="31.6" height="51.65" fill="#0000ff"/>
<rect x="683.94" y="671.03" width="31.6" height="117.92" fill="#ffa500"/>
<rect x="683.94" y="641.63" width="31.6" height="29.41" fill="#2e8b57"/>
<rect x="746.32" y="788.48" width="31.6" height="52.12" fill="#0000ff"/>
<rect x="746.32" y="674.84" width="31.6" height="113.64" fill="#ffa500"/>
<rect x="746.32" y="638.55" width="31.6" height="36.29" fill="#2e8b57"/>
<path d="M512.6,644.43 H824.5" stroke="#000" stroke-width="1.45" stroke-dasharray="5.9 5.83" stroke-dashoffset="0.4" fill="none"/>
<rect x="512.6" y="605.2" width="311.9" height="235.39999999999998" fill="none" stroke="#000" stroke-width="1.8"/>
<path d="M512.6,840.60 h6.3 M824.5,840.60 h-6.3 M512.6,801.37 h6.3 M824.5,801.37 h-6.3 M512.6,762.13 h6.3 M824.5,762.13 h-6.3 M512.6,722.90 h6.3 M824.5,722.90 h-6.3 M512.6,683.67 h6.3 M824.5,683.67 h-6.3 M512.6,644.43 h6.3 M824.5,644.43 h-6.3 M512.6,605.20 h6.3 M824.5,605.20 h-6.3 M574.98,605.2 v6.3 M637.36,605.2 v6.3 M699.74,605.2 v6.3 M762.12,605.2 v6.3" stroke="#000" stroke-width="1.3" fill="none"/>
</g>
<rect x="540.2" y="4.6" width="44.8" height="7.3" fill="#0000ff"/>
<rect x="659.9" y="4.6" width="44.8" height="7.3" fill="#ffa500"/>
<rect x="780" y="4.6" width="44.8" height="7.3" fill="#2e8b57"/>
<g filter="url(#gs)">
<text x="56.6" y="269.70" text-anchor="end" font-family="Liberation Serif, serif" font-size="16.3">0.0</text>
<text x="70.00" y="285.10" text-anchor="middle" font-family="Liberation Serif, serif" font-size="16.3">0.0</text>
<text x="56.6" y="223.04" text-anchor="end" font-family="Liberation Serif, serif" font-size="16.3">0.2</text>
<text x="136.52" y="285.10" text-anchor="middle" font-family="Liberation Serif, serif" font-size="16.3">0.2</text>
<text x="56.6" y="176.38" text-anchor="end" font-family="Liberation Serif, serif" font-size="16.3">0.4</text>
<text x="203.04" y="285.10" text-anchor="middle" font-family="Liberation Serif, serif" font-size="16.3">0.4</text>
<text x="56.6" y="129.72" text-anchor="end" font-family="Liberation Serif, serif" font-size="16.3">0.6</text>
<text x="269.56" y="285.10" text-anchor="middle" font-family="Liberation Serif, serif" font-size="16.3">0.6</text>
<text x="56.6" y="83.06" text-anchor="end" font-family="Liberation Serif, serif" font-size="16.3">0.8</text>
<text x="336.08" y="285.10" text-anchor="middle" font-family="Liberation Serif, serif" font-size="16.3">0.8</text>
<text x="56.6" y="36.40" text-anchor="end" font-family="Liberation Serif, serif" font-size="16.3">1.0</text>
<text x="402.60" y="285.10" text-anchor="middle" font-family="Liberation Serif, serif" font-size="16.3">1.0</text>
<text x="3.60" y="36.80" font-family="Liberation Serif, serif" font-size="19">(</text>
<text x="9.50" y="36.80" font-family="Liberation Serif, serif" font-size="17" font-style="italic">a</text>
<text x="17.80" y="36.80" font-family="Liberation Serif, serif" font-size="19">)</text>
<!--T--><g transform="translate(20.3,178.35) rotate(-90)"><path d="M4.7,-16 L0.6,-6.6 L4.7,2.8 M15.3,-16 L19.6,-6.6 L15.3,2.8 M25.6,3 L34.6,-16" stroke="#000" stroke-width="0.9" fill="none"/><text font-family="Liberation Serif, serif" font-size="16.3" font-style="italic"><tspan x="5.6" y="0" textLength="7" lengthAdjust="spacingAndGlyphs">τ</tspan><tspan x="10" y="3" font-size="10.5">i</tspan><tspan x="34.2" y="0">ρ</tspan><tspan x="41.4" y="0">u</tspan><tspan x="49.8" y="-6.3" font-size="10.5" font-style="normal">2</tspan><tspan x="49.2" y="3.6" font-size="10.5">τ</tspan></text></g>
<text x="56.6" y="555.50" text-anchor="end" font-family="Liberation Serif, serif" font-size="16.3">0.0</text>
<text x="70.00" y="570.90" text-anchor="middle" font-family="Liberation Serif, serif" font-size="16.3">0.0</text>
<text x="56.6" y="508.80" text-anchor="end" font-family="Liberation Serif, serif" font-size="16.3">0.2</text>
<text x="136.52" y="570.90" text-anchor="middle" font-family="Liberation Serif, serif" font-size="16.3">0.2</text>
<text x="56.6" y="462.10" text-anchor="end" font-family="Liberation Serif, serif" font-size="16.3">0.4</text>
<text x="203.04" y="570.90" text-anchor="middle" font-family="Liberation Serif, serif" font-size="16.3">0.4</text>
<text x="56.6" y="415.40" text-anchor="end" font-family="Liberation Serif, serif" font-size="16.3">0.6</text>
<text x="269.56" y="570.90" text-anchor="middle" font-family="Liberation Serif, serif" font-size="16.3">0.6</text>
<text x="56.6" y="368.70" text-anchor="end" font-family="Liberation Serif, serif" font-size="16.3">0.8</text>
<text x="336.08" y="570.90" text-anchor="middle" font-family="Liberation Serif, serif" font-size="16.3">0.8</text>
<text x="56.6" y="322.00" text-anchor="end" font-family="Liberation Serif, serif" font-size="16.3">1.0</text>
<text x="402.60" y="570.90" text-anchor="middle" font-family="Liberation Serif, serif" font-size="16.3">1.0</text>
<text x="3.60" y="322.40" font-family="Liberation Serif, serif" font-size="19">(</text>
<text x="9.50" y="322.40" font-family="Liberation Serif, serif" font-size="17" font-style="italic">c</text>
<text x="17.80" y="322.40" font-family="Liberation Serif, serif" font-size="19">)</text>
<!--T--><g transform="translate(20.3,464.05) rotate(-90)"><path d="M4.7,-16 L0.6,-6.6 L4.7,2.8 M15.3,-16 L19.6,-6.6 L15.3,2.8 M25.6,3 L34.6,-16" stroke="#000" stroke-width="0.9" fill="none"/><text font-family="Liberation Serif, serif" font-size="16.3" font-style="italic"><tspan x="5.6" y="0" textLength="7" lengthAdjust="spacingAndGlyphs">τ</tspan><tspan x="10" y="3" font-size="10.5">i</tspan><tspan x="34.2" y="0">ρ</tspan><tspan x="41.4" y="0">u</tspan><tspan x="49.8" y="-6.3" font-size="10.5" font-style="normal">2</tspan><tspan x="49.2" y="3.6" font-size="10.5">τ</tspan></text></g>
<text x="56.6" y="842.90" text-anchor="end" font-family="Liberation Serif, serif" font-size="16.3">0.0</text>
<text x="70.00" y="858.30" text-anchor="middle" font-family="Liberation Serif, serif" font-size="16.3">0.0</text>
<text x="56.6" y="796.16" text-anchor="end" font-family="Liberation Serif, serif" font-size="16.3">0.2</text>
<text x="136.52" y="858.30" text-anchor="middle" font-family="Liberation Serif, serif" font-size="16.3">0.2</text>
<text x="56.6" y="749.42" text-anchor="end" font-family="Liberation Serif, serif" font-size="16.3">0.4</text>
<text x="203.04" y="858.30" text-anchor="middle" font-family="Liberation Serif, serif" font-size="16.3">0.4</text>
<text x="56.6" y="702.68" text-anchor="end" font-family="Liberation Serif, serif" font-size="16.3">0.6</text>
<text x="269.56" y="858.30" text-anchor="middle" font-family="Liberation Serif, serif" font-size="16.3">0.6</text>
<text x="56.6" y="655.94" text-anchor="end" font-family="Liberation Serif, serif" font-size="16.3">0.8</text>
<text x="336.08" y="858.30" text-anchor="middle" font-family="Liberation Serif, serif" font-size="16.3">0.8</text>
<text x="56.6" y="609.20" text-anchor="end" font-family="Liberation Serif, serif" font-size="16.3">1.0</text>
<text x="402.60" y="858.30" text-anchor="middle" font-family="Liberation Serif, serif" font-size="16.3">1.0</text>
<text x="3.60" y="609.60" font-family="Liberation Serif, serif" font-size="19">(</text>
<text x="9.50" y="609.60" font-family="Liberation Serif, serif" font-size="17" font-style="italic">e</text>
<text x="17.80" y="609.60" font-family="Liberation Serif, serif" font-size="19">)</text>
<!--T--><g transform="translate(20.3,751.35) rotate(-90)"><path d="M4.7,-16 L0.6,-6.6 L4.7,2.8 M15.3,-16 L19.6,-6.6 L15.3,2.8 M25.6,3 L34.6,-16" stroke="#000" stroke-width="0.9" fill="none"/><text font-family="Liberation Serif, serif" font-size="16.3" font-style="italic"><tspan x="5.6" y="0" textLength="7" lengthAdjust="spacingAndGlyphs">τ</tspan><tspan x="10" y="3" font-size="10.5">i</tspan><tspan x="34.2" y="0">ρ</tspan><tspan x="41.4" y="0">u</tspan><tspan x="49.8" y="-6.3" font-size="10.5" font-style="normal">2</tspan><tspan x="49.2" y="3.6" font-size="10.5">τ</tspan></text></g>
<text x="223.8" y="879.5" font-family="Liberation Serif, serif" font-size="16.3" font-style="italic">y</text>
<!--T--><path d="M231.8,883.6 L239.2,866.4" stroke="#000" stroke-width="0.9"/>
<text x="240.6" y="879.5" font-family="Liberation Serif, serif" font-size="16.3" font-style="italic">h</text>
<text x="316.0" y="66.60" text-anchor="end" font-family="Liberation Serif, serif" font-size="16.3" textLength="37.2" lengthAdjust="spacingAndGlyphs">Total</text>
<text x="302.10" y="89.50" font-family="Liberation Serif, serif" font-size="15.5" font-style="italic" textLength="6.7" lengthAdjust="spacingAndGlyphs">τ</text>
<text x="309.00" y="92.40" font-family="Liberation Serif, serif" font-size="12.5" font-style="italic">ν</text>
<text x="290.80" y="113.10" font-family="Liberation Serif, serif" font-size="15.5" font-style="italic" textLength="6.7" lengthAdjust="spacingAndGlyphs">τ</text>
<text x="298.30" y="116.00" font-family="Liberation Serif, serif" font-size="12" font-style="italic">T</text>
<text x="306.60" y="116.00" font-family="Liberation Serif, serif" font-size="12" font-style="italic">,</text>
<text x="309.90" y="116.00" font-family="Liberation Serif, serif" font-size="13" font-style="italic">f</text>
<text x="291.90" y="136.10" font-family="Liberation Serif, serif" font-size="15.5" font-style="italic" textLength="6.7" lengthAdjust="spacingAndGlyphs">τ</text>
<text x="298.80" y="139.00" font-family="Liberation Serif, serif" font-size="12" font-style="italic">T</text>
<text x="307.10" y="139.00" font-family="Liberation Serif, serif" font-size="12" font-style="italic">,</text>
<text x="310.10" y="139.00" font-family="Liberation Serif, serif" font-size="12" font-style="italic">p</text>
<text x="315.3" y="351.40" text-anchor="end" font-family="Liberation Serif, serif" font-size="16.3" textLength="85.7" lengthAdjust="spacingAndGlyphs">Particle-free</text>
<text x="315.3" y="374.70" text-anchor="end" font-family="Liberation Serif, serif" font-size="16.3" textLength="57.0" lengthAdjust="spacingAndGlyphs">Lift-free</text>
<text x="315.3" y="397.90" text-anchor="end" font-family="Liberation Serif, serif" font-size="16.3" textLength="57.3" lengthAdjust="spacingAndGlyphs">Saffman</text>
<text x="315.3" y="421.20" text-anchor="end" font-family="Liberation Serif, serif" font-size="16.3" textLength="26.2" lengthAdjust="spacingAndGlyphs">Mei</text>
<text x="315.3" y="444.30" text-anchor="end" font-family="Liberation Serif, serif" font-size="16.3" textLength="33.6" lengthAdjust="spacingAndGlyphs">CBP</text>
<text x="501.50" y="271.10" text-anchor="end" font-family="Liberation Serif, serif" font-size="15.5">0.0</text>
<text x="501.50" y="231.85" text-anchor="end" font-family="Liberation Serif, serif" font-size="15.5">0.2</text>
<text x="501.50" y="192.60" text-anchor="end" font-family="Liberation Serif, serif" font-size="15.5">0.4</text>
<text x="501.50" y="153.35" text-anchor="end" font-family="Liberation Serif, serif" font-size="15.5">0.6</text>
<text x="501.50" y="114.10" text-anchor="end" font-family="Liberation Serif, serif" font-size="15.5">0.8</text>
<text x="501.50" y="74.85" text-anchor="end" font-family="Liberation Serif, serif" font-size="15.5">1.0</text>
<text x="501.50" y="35.60" text-anchor="end" font-family="Liberation Serif, serif" font-size="15.5">1.2</text>
<text x="575.74" y="285.50" text-anchor="middle" font-family="Liberation Serif, serif" font-size="15.5" textLength="54.4" lengthAdjust="spacingAndGlyphs">Lift-free</text>
<text x="638.08" y="285.50" text-anchor="middle" font-family="Liberation Serif, serif" font-size="15.5" textLength="54.1" lengthAdjust="spacingAndGlyphs">Saffman</text>
<text x="700.42" y="285.50" text-anchor="middle" font-family="Liberation Serif, serif" font-size="15.5" textLength="25.2" lengthAdjust="spacingAndGlyphs">Mei</text>
<text x="762.76" y="285.50" text-anchor="middle" font-family="Liberation Serif, serif" font-size="15.5" textLength="31.6" lengthAdjust="spacingAndGlyphs">CBP</text>
<text x="449.20" y="36.30" font-family="Liberation Serif, serif" font-size="18">(</text>
<text x="454.80" y="36.30" font-family="Liberation Serif, serif" font-size="16" font-style="italic">b</text>
<text x="462.00" y="36.30" font-family="Liberation Serif, serif" font-size="18">)</text>
<!--T--><g transform="translate(464.40,214.15) rotate(-90)"><text x="0" y="0" font-family="Liberation Serif, serif" font-size="15.5" textLength="108" lengthAdjust="spacingAndGlyphs">Contribution to </text><text x="112" y="0" font-family="Liberation Serif, serif" font-size="15.5" font-style="italic">C</text><text x="121.5" y="3.4" font-family="Liberation Serif, serif" font-size="10.8" font-style="italic">f</text></g>
<text x="501.50" y="556.60" text-anchor="end" font-family="Liberation Serif, serif" font-size="15.5">0.0</text>
<text x="501.50" y="517.40" text-anchor="end" font-family="Liberation Serif, serif" font-size="15.5">0.2</text>
<text x="501.50" y="478.20" text-anchor="end" font-family="Liberation Serif, serif" font-size="15.5">0.4</text>
<text x="501.50" y="439.00" text-anchor="end" font-family="Liberation Serif, serif" font-size="15.5">0.6</text>
<text x="501.50" y="399.80" text-anchor="end" font-family="Liberation Serif, serif" font-size="15.5">0.8</text>
<text x="501.50" y="360.60" text-anchor="end" font-family="Liberation Serif, serif" font-size="15.5">1.0</text>
<text x="501.50" y="321.40" text-anchor="end" font-family="Liberation Serif, serif" font-size="15.5">1.2</text>
<text x="575.74" y="571.00" text-anchor="middle" font-family="Liberation Serif, serif" font-size="15.5" textLength="54.4" lengthAdjust="spacingAndGlyphs">Lift-free</text>
<text x="638.08" y="571.00" text-anchor="middle" font-family="Liberation Serif, serif" font-size="15.5" textLength="54.1" lengthAdjust="spacingAndGlyphs">Saffman</text>
<text x="700.42" y="571.00" text-anchor="middle" font-family="Liberation Serif, serif" font-size="15.5" textLength="25.2" lengthAdjust="spacingAndGlyphs">Mei</text>
<text x="762.76" y="571.00" text-anchor="middle" font-family="Liberation Serif, serif" font-size="15.5" textLength="31.6" lengthAdjust="spacingAndGlyphs">CBP</text>
<text x="449.20" y="322.10" font-family="Liberation Serif, serif" font-size="18">(</text>
<text x="454.80" y="322.10" font-family="Liberation Serif, serif" font-size="16" font-style="italic">d</text>
<text x="462.00" y="322.10" font-family="Liberation Serif, serif" font-size="18">)</text>
<!--T--><g transform="translate(464.40,499.80) rotate(-90)"><text x="0" y="0" font-family="Liberation Serif, serif" font-size="15.5" textLength="108" lengthAdjust="spacingAndGlyphs">Contribution to </text><text x="112" y="0" font-family="Liberation Serif, serif" font-size="15.5" font-style="italic">C</text><text x="121.5" y="3.4" font-family="Liberation Serif, serif" font-size="10.8" font-style="italic">f</text></g>
<text x="500.70" y="843.80" text-anchor="end" font-family="Liberation Serif, serif" font-size="15.5">0.0</text>
<text x="500.70" y="804.57" text-anchor="end" font-family="Liberation Serif, serif" font-size="15.5">0.2</text>
<text x="500.70" y="765.33" text-anchor="end" font-family="Liberation Serif, serif" font-size="15.5">0.4</text>
<text x="500.70" y="726.10" text-anchor="end" font-family="Liberation Serif, serif" font-size="15.5">0.6</text>
<text x="500.70" y="686.87" text-anchor="end" font-family="Liberation Serif, serif" font-size="15.5">0.8</text>
<text x="500.70" y="647.63" text-anchor="end" font-family="Liberation Serif, serif" font-size="15.5">1.0</text>
<text x="500.70" y="608.40" text-anchor="end" font-family="Liberation Serif, serif" font-size="15.5">1.2</text>
<text x="574.98" y="858.20" text-anchor="middle" font-family="Liberation Serif, serif" font-size="15.5" textLength="54.4" lengthAdjust="spacingAndGlyphs">Lift-free</text>
<text x="637.36" y="858.20" text-anchor="middle" font-family="Liberation Serif, serif" font-size="15.5" textLength="54.1" lengthAdjust="spacingAndGlyphs">Saffman</text>
<text x="699.74" y="858.20" text-anchor="middle" font-family="Liberation Serif, serif" font-size="15.5" textLength="25.2" lengthAdjust="spacingAndGlyphs">Mei</text>
<text x="762.12" y="858.20" text-anchor="middle" font-family="Liberation Serif, serif" font-size="15.5" textLength="31.6" lengthAdjust="spacingAndGlyphs">CBP</text>
<text x="448.40" y="609.10" font-family="Liberation Serif, serif" font-size="18">(</text>
<text x="454.00" y="609.10" font-family="Liberation Serif, serif" font-size="16" font-style="italic">f</text>
<text x="461.20" y="609.10" font-family="Liberation Serif, serif" font-size="18">)</text>
<!--T--><g transform="translate(463.60,786.90) rotate(-90)"><text x="0" y="0" font-family="Liberation Serif, serif" font-size="15.5" textLength="108" lengthAdjust="spacingAndGlyphs">Contribution to </text><text x="112" y="0" font-family="Liberation Serif, serif" font-size="15.5" font-style="italic">C</text><text x="121.5" y="3.4" font-family="Liberation Serif, serif" font-size="10.8" font-style="italic">f</text></g>
<text x="511.30" y="11.70" font-family="Liberation Serif, serif" font-size="15.5" font-style="italic" textLength="6.7" lengthAdjust="spacingAndGlyphs">τ</text>
<text x="518.80" y="14.60" font-family="Liberation Serif, serif" font-size="12.5" font-style="italic">ν</text>
<text x="618.40" y="11.90" font-family="Liberation Serif, serif" font-size="15.5" font-style="italic" textLength="6.7" lengthAdjust="spacingAndGlyphs">τ</text>
<text x="626.40" y="14.80" font-family="Liberation Serif, serif" font-size="12" font-style="italic">T</text>
<text x="634.70" y="14.80" font-family="Liberation Serif, serif" font-size="12" font-style="italic">,</text>
<text x="638.00" y="14.80" font-family="Liberation Serif, serif" font-size="13" font-style="italic">f</text>
<text x="739.20" y="11.90" font-family="Liberation Serif, serif" font-size="15.5" font-style="italic" textLength="6.7" lengthAdjust="spacingAndGlyphs">τ</text>
<text x="747.20" y="14.80" font-family="Liberation Serif, serif" font-size="12" font-style="italic">T</text>
<text x="755.50" y="14.80" font-family="Liberation Serif, serif" font-size="12" font-style="italic">,</text>
<text x="758.50" y="14.80" font-family="Liberation Serif, serif" font-size="12" font-style="italic">p</text>
</g>
</svg></body></html>
